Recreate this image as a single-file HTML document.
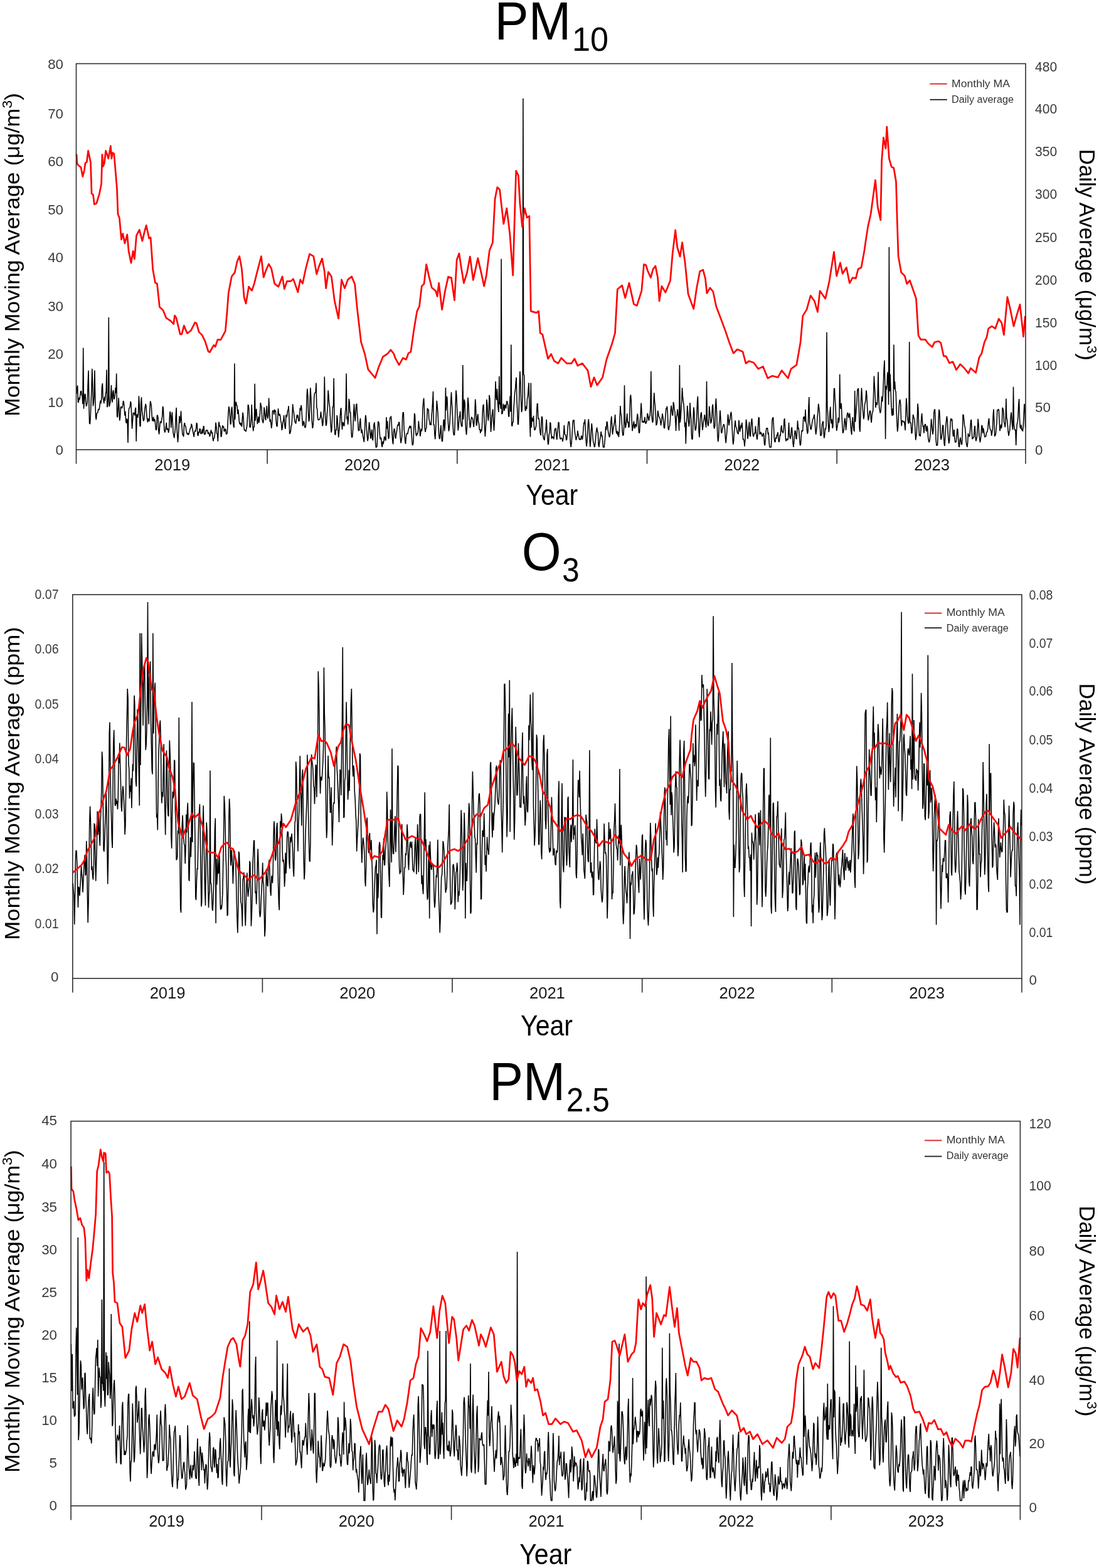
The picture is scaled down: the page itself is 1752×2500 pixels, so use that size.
<!DOCTYPE html>
<html><head><meta charset="utf-8"><title>PM10, O3, PM2.5 time series</title>
<style>html,body{margin:0;padding:0;background:#fff;}svg{display:block;}</style></head><body>
<svg xmlns="http://www.w3.org/2000/svg" width="1752" height="2500" viewBox="0 0 1752 2500" font-family='"Liberation Sans", Arial, sans-serif'>
<rect width="1752" height="2500" fill="#fff"/>
<polyline points="121.9,628.3 122.7,617.9 123.6,614.6 124.4,641.0 125.2,641.4 126.1,633.8 126.9,637.4 127.7,630.8 128.5,624.6 129.4,623.2 130.2,629.8 131.0,630.4 131.9,644.1 132.7,554.6 133.5,651.7 134.3,640.7 135.2,628.7 136.0,628.8 136.8,641.9 137.7,647.9 138.5,645.2 139.3,640.5 140.1,614.5 141.0,590.8 141.8,638.4 142.6,675.1 143.5,675.6 144.3,663.3 145.1,641.3 146.0,620.0 146.8,587.9 147.6,611.5 148.4,647.4 149.3,641.8 150.1,631.6 150.9,590.6 151.8,638.1 152.6,665.0 153.4,669.0 154.2,659.5 155.1,658.2 155.9,657.7 156.7,652.1 157.6,654.0 158.4,651.5 159.2,645.3 160.0,638.7 160.9,643.3 161.7,636.7 162.5,616.7 163.4,611.2 164.2,635.1 165.0,637.8 165.8,643.1 166.7,632.6 167.5,638.9 168.3,628.4 169.2,623.9 170.0,589.4 170.8,649.3 171.6,646.0 172.5,635.5 173.3,506.1 174.1,648.3 175.0,644.9 175.8,641.1 176.6,632.1 177.4,614.1 178.3,636.8 179.1,641.5 179.9,625.4 180.8,622.0 181.6,636.7 182.4,635.2 183.3,630.5 184.1,618.1 184.9,626.7 185.7,595.6 186.6,663.3 187.4,665.4 188.2,651.7 189.1,634.3 189.9,652.9 190.7,670.7 191.5,665.6 192.4,649.6 193.2,648.2 194.0,651.1 194.9,649.6 195.7,646.2 196.5,639.1 197.3,640.9 198.2,651.8 199.0,662.8 199.8,655.8 200.7,671.8 201.5,674.9 202.3,667.4 203.1,669.7 204.0,706.0 204.8,663.2 205.6,651.5 206.5,650.2 207.3,647.9 208.1,640.0 208.9,643.0 209.8,664.1 210.6,683.6 211.4,671.1 212.3,658.5 213.1,658.5 213.9,658.9 214.7,662.6 215.6,652.9 216.4,649.7 217.2,703.7 218.1,662.0 218.9,660.7 219.7,666.0 220.5,658.5 221.4,631.3 222.2,645.2 223.0,678.6 223.9,680.1 224.7,643.7 225.5,633.4 226.4,655.0 227.2,660.6 228.0,668.2 228.8,671.3 229.7,668.5 230.5,655.8 231.3,649.0 232.2,643.9 233.0,648.1 233.8,661.5 234.6,667.8 235.5,673.3 236.3,667.9 237.1,668.3 238.0,671.8 238.8,652.9 239.6,639.6 240.4,642.1 241.3,647.1 242.1,662.3 242.9,671.1 243.8,670.4 244.6,664.6 245.4,672.1 246.2,668.0 247.1,670.7 247.9,679.1 248.7,685.8 249.6,684.7 250.4,662.4 251.2,662.3 252.0,665.8 252.9,687.3 253.7,692.5 254.5,681.5 255.4,671.8 256.2,673.4 257.0,673.9 257.8,668.9 258.7,663.6 259.5,647.7 260.3,651.3 261.2,673.0 262.0,686.1 262.8,689.7 263.6,685.9 264.5,680.6 265.3,673.7 266.1,685.5 267.0,683.4 267.8,684.1 268.6,690.0 269.5,684.7 270.3,666.1 271.1,656.0 271.9,660.8 272.8,682.1 273.6,667.7 274.4,657.0 275.3,673.6 276.1,690.3 276.9,693.7 277.7,698.3 278.6,690.6 279.4,683.8 280.2,664.5 281.1,649.9 281.9,682.0 282.7,694.2 283.5,705.2 284.4,693.3 285.2,678.3 286.0,663.4 286.9,674.6 287.7,669.4 288.5,655.3 289.3,671.1 290.2,683.8 291.0,692.8 291.8,693.5 292.7,696.2 293.5,677.9 294.3,674.2 295.1,679.0 296.0,679.3 296.8,686.2 297.6,689.7 298.5,692.4 299.3,690.4 300.1,692.9 300.9,692.6 301.8,689.1 302.6,686.3 303.4,682.4 304.3,682.4 305.1,675.8 305.9,678.3 306.8,683.1 307.6,688.7 308.4,692.1 309.2,696.7 310.1,688.7 310.9,687.1 311.7,688.0 312.6,682.9 313.4,674.0 314.2,676.2 315.0,693.6 315.9,694.9 316.7,688.3 317.5,690.4 318.4,683.6 319.2,684.0 320.0,691.1 320.8,691.4 321.7,689.2 322.5,684.3 323.3,691.4 324.2,680.1 325.0,679.4 325.8,692.5 326.6,692.4 327.5,691.5 328.3,686.7 329.1,685.7 330.0,686.8 330.8,686.2 331.6,692.0 332.4,689.7 333.3,690.7 334.1,695.4 334.9,694.8 335.8,688.8 336.6,685.5 337.4,691.1 338.2,688.9 339.1,697.2 339.9,703.3 340.7,698.9 341.6,698.5 342.4,692.7 343.2,686.5 344.0,673.6 344.9,680.5 345.7,691.1 346.5,691.8 347.4,703.8 348.2,683.2 349.0,672.5 349.9,679.3 350.7,679.2 351.5,682.9 352.3,696.7 353.2,695.2 354.0,683.7 354.8,678.3 355.7,680.8 356.5,679.9 357.3,687.9 358.1,687.2 359.0,683.8 359.8,684.8 360.6,692.0 361.5,691.8 362.3,690.2 363.1,675.1 363.9,659.2 364.8,648.1 365.6,652.2 366.4,661.4 367.3,676.6 368.1,675.6 368.9,653.3 369.7,648.6 370.6,662.4 371.4,672.6 372.2,678.7 373.1,681.8 373.9,579.4 374.7,669.0 375.5,645.8 376.4,640.7 377.2,646.0 378.0,647.3 378.9,660.2 379.7,652.8 380.5,660.9 381.3,671.6 382.2,676.4 383.0,674.0 383.8,678.3 384.7,674.5 385.5,680.4 386.3,667.6 387.1,657.5 388.0,665.4 388.8,679.9 389.6,686.5 390.5,685.7 391.3,686.9 392.1,688.1 393.0,682.8 393.8,678.7 394.6,663.7 395.4,645.2 396.3,646.9 397.1,655.6 397.9,679.3 398.8,681.9 399.6,678.6 400.4,668.6 401.2,645.0 402.1,668.4 402.9,677.9 403.7,687.3 404.6,680.5 405.4,680.4 406.2,611.8 407.0,671.0 407.9,656.6 408.7,651.9 409.5,665.8 410.4,676.1 411.2,670.5 412.0,664.2 412.8,674.0 413.7,668.5 414.5,657.4 415.3,642.0 416.2,647.0 417.0,649.2 417.8,668.8 418.6,671.6 419.5,674.6 420.3,667.9 421.1,649.4 422.0,655.5 422.8,665.7 423.6,670.2 424.4,659.5 425.3,647.0 426.1,662.8 426.9,667.3 427.8,661.6 428.6,634.5 429.4,653.1 430.3,672.7 431.1,668.4 431.9,674.6 432.7,682.9 433.6,676.1 434.4,656.2 435.2,654.7 436.1,654.9 436.9,661.1 437.7,652.7 438.5,656.2 439.4,654.7 440.2,671.2 441.0,678.9 441.9,680.2 442.7,666.7 443.5,651.4 444.3,659.9 445.2,662.9 446.0,660.0 446.8,664.4 447.7,671.4 448.5,674.7 449.3,686.0 450.1,682.6 451.0,672.6 451.8,671.4 452.6,662.1 453.5,674.0 454.3,681.3 455.1,683.8 455.9,661.4 456.8,665.1 457.6,663.6 458.4,655.5 459.3,653.5 460.1,647.4 460.9,665.9 461.7,692.0 462.6,690.3 463.4,687.3 464.2,678.8 465.1,677.2 465.9,662.2 466.7,644.4 467.5,653.8 468.4,657.8 469.2,664.8 470.0,672.1 470.9,674.3 471.7,675.3 472.5,668.6 473.4,661.4 474.2,666.2 475.0,661.5 475.8,669.7 476.7,671.9 477.5,668.4 478.3,650.3 479.2,654.7 480.0,646.0 480.8,650.7 481.6,665.4 482.5,679.1 483.3,677.0 484.1,671.3 485.0,674.2 485.8,680.9 486.6,682.0 487.4,679.7 488.3,661.7 489.1,631.9 489.9,619.9 490.8,630.5 491.6,658.7 492.4,672.3 493.2,667.7 494.1,636.9 494.9,618.3 495.7,632.4 496.6,655.5 497.4,673.0 498.2,682.9 499.0,679.9 499.9,667.9 500.7,634.6 501.5,627.2 502.4,626.2 503.2,625.3 504.0,610.5 504.8,649.6 505.7,652.4 506.5,666.1 507.3,669.6 508.2,669.5 509.0,669.0 509.8,668.2 510.7,664.7 511.5,656.2 512.3,664.6 513.1,667.5 514.0,679.3 514.8,677.0 515.6,664.8 516.5,652.0 517.3,600.6 518.1,650.3 518.9,668.4 519.8,678.9 520.6,675.7 521.4,660.3 522.3,648.7 523.1,622.3 523.9,630.4 524.7,643.0 525.6,648.7 526.4,663.2 527.2,678.1 528.1,689.7 528.9,685.2 529.7,665.4 530.5,648.4 531.4,648.4 532.2,603.0 533.0,673.7 533.9,692.4 534.7,693.4 535.5,685.4 536.3,685.5 537.2,662.1 538.0,667.5 538.8,684.5 539.7,697.5 540.5,687.6 541.3,681.6 542.1,667.5 543.0,653.2 543.8,650.5 544.6,671.7 545.5,684.9 546.3,673.3 547.1,673.9 547.9,678.5 548.8,678.7 549.6,668.2 550.4,657.7 551.3,649.8 552.1,595.6 552.9,668.6 553.8,663.9 554.6,677.0 555.4,668.8 556.2,635.8 557.1,640.9 557.9,657.4 558.7,657.5 559.6,675.7 560.4,695.2 561.2,697.8 562.0,694.6 562.9,680.8 563.7,658.6 564.5,644.1 565.4,662.1 566.2,671.6 567.0,658.3 567.8,645.9 568.7,643.5 569.5,658.8 570.3,667.8 571.2,685.5 572.0,686.7 572.8,685.7 573.6,673.7 574.5,666.9 575.3,682.2 576.1,690.3 577.0,684.8 577.8,690.4 578.6,695.3 579.4,699.2 580.3,704.8 581.1,695.2 581.9,674.2 582.8,661.8 583.6,667.4 584.4,683.7 585.2,695.0 586.1,703.1 586.9,698.8 587.7,685.2 588.6,673.1 589.4,680.9 590.2,692.1 591.0,699.5 591.9,690.6 592.7,684.9 593.5,699.5 594.4,702.3 595.2,688.9 596.0,677.4 596.9,673.3 597.7,682.4 598.5,705.1 599.3,712.9 600.2,712.9 601.0,711.9 601.8,694.3 602.7,672.5 603.5,672.7 604.3,675.7 605.1,688.7 606.0,700.4 606.8,698.1 607.6,698.5 608.5,710.0 609.3,712.9 610.1,703.6 610.9,708.0 611.8,703.9 612.6,696.5 613.4,696.7 614.3,701.8 615.1,701.6 615.9,665.0 616.7,683.4 617.6,671.4 618.4,686.8 619.2,699.6 620.1,697.7 620.9,677.9 621.7,665.5 622.5,667.1 623.4,663.4 624.2,674.5 625.0,690.6 625.9,704.5 626.7,708.3 627.5,688.9 628.3,683.9 629.2,684.3 630.0,696.6 630.8,699.3 631.7,692.2 632.5,687.6 633.3,681.0 634.2,676.9 635.0,678.8 635.8,673.3 636.6,673.4 637.5,685.5 638.3,698.7 639.1,706.5 640.0,701.4 640.8,695.1 641.6,665.9 642.4,657.6 643.3,657.8 644.1,684.7 644.9,690.9 645.8,703.9 646.6,707.8 647.4,696.9 648.2,692.0 649.1,691.0 649.9,692.1 650.7,687.0 651.6,683.8 652.4,681.4 653.2,679.1 654.0,682.7 654.9,678.8 655.7,687.0 656.5,698.9 657.4,709.8 658.2,709.1 659.0,705.0 659.8,681.5 660.7,658.9 661.5,662.1 662.3,682.7 663.2,693.3 664.0,695.2 664.8,691.5 665.6,691.8 666.5,687.8 667.3,671.3 668.1,680.5 669.0,684.0 669.8,695.7 670.6,690.7 671.4,683.5 672.3,687.5 673.1,681.4 673.9,653.4 674.8,640.3 675.6,634.9 676.4,649.5 677.3,683.8 678.1,689.0 678.9,683.8 679.7,682.2 680.6,667.7 681.4,650.7 682.2,653.8 683.1,652.8 683.9,669.1 684.7,670.9 685.5,677.9 686.4,674.2 687.2,677.9 688.0,663.4 688.9,653.5 689.7,641.0 690.5,624.0 691.3,677.2 692.2,677.5 693.0,694.0 693.8,700.3 694.7,682.9 695.5,659.5 696.3,638.7 697.1,647.0 698.0,657.8 698.8,676.6 699.6,691.8 700.5,699.8 701.3,698.7 702.1,686.8 702.9,678.0 703.8,695.3 704.6,703.9 705.4,703.3 706.3,684.8 707.1,669.9 707.9,669.1 708.7,687.4 709.6,676.1 710.4,618.0 711.2,654.4 712.1,631.9 712.9,634.2 713.7,659.5 714.5,674.8 715.4,687.6 716.2,683.8 717.0,673.6 717.9,657.0 718.7,640.4 719.5,625.3 720.4,643.6 721.2,656.7 722.0,677.4 722.8,690.5 723.7,694.0 724.5,692.9 725.3,673.6 726.2,643.9 727.0,622.3 727.8,630.6 728.6,650.4 729.5,671.8 730.3,686.5 731.1,679.6 732.0,664.4 732.8,663.5 733.6,655.8 734.4,671.7 735.3,677.7 736.1,680.2 736.9,679.0 737.8,582.0 738.6,668.8 739.4,652.1 740.2,636.9 741.1,642.5 741.9,671.8 742.7,685.2 743.6,693.3 744.4,681.8 745.2,653.5 746.0,633.8 746.9,644.5 747.7,665.0 748.5,671.1 749.4,682.1 750.2,679.1 751.0,668.7 751.8,664.7 752.7,667.1 753.5,667.2 754.3,674.5 755.2,680.9 756.0,672.7 756.8,661.4 757.7,636.6 758.5,647.6 759.3,677.5 760.1,678.5 761.0,664.6 761.8,660.1 762.6,672.5 763.5,675.6 764.3,685.5 765.1,684.0 765.9,690.6 766.8,684.5 767.6,687.9 768.4,682.0 769.3,656.8 770.1,647.0 770.9,644.8 771.7,663.8 772.6,681.8 773.4,696.3 774.2,684.1 775.1,669.3 775.9,636.8 776.7,644.9 777.5,663.2 778.4,670.8 779.2,659.5 780.0,629.8 780.9,635.8 781.7,664.3 782.5,688.6 783.3,678.4 784.2,663.6 785.0,657.2 785.8,652.4 786.7,673.5 787.5,686.7 788.3,672.9 789.1,644.9 790.0,608.0 790.8,631.6 791.6,637.8 792.5,619.9 793.3,639.3 794.1,650.1 794.9,657.1 795.8,600.0 796.6,644.5 797.4,641.9 798.3,652.0 799.1,412.8 799.9,660.2 800.8,659.4 801.6,655.8 802.4,643.8 803.2,647.3 804.1,655.0 804.9,646.1 805.7,645.8 806.6,651.4 807.4,643.7 808.2,639.1 809.0,642.2 809.9,646.6 810.7,663.7 811.5,664.4 812.4,646.5 813.2,631.6 814.0,656.5 814.8,549.6 815.7,677.9 816.5,679.6 817.3,673.4 818.2,672.8 819.0,651.6 819.8,638.7 820.6,626.7 821.5,620.7 822.3,609.0 823.1,601.7 824.0,639.7 824.8,654.6 825.6,676.9 826.4,676.3 827.3,653.2 828.1,618.0 828.9,592.1 829.8,609.8 830.6,637.0 831.4,657.1 832.2,653.8 833.1,629.1 833.9,157.0 834.7,597.3 835.6,597.9 836.4,633.4 837.2,654.2 838.1,654.9 838.9,647.7 839.7,652.1 840.5,635.6 841.4,632.8 842.2,620.4 843.0,610.3 843.9,642.7 844.7,677.4 845.5,696.6 846.3,610.5 847.2,681.8 848.0,666.0 848.8,669.5 849.7,671.9 850.5,662.8 851.3,678.4 852.1,685.9 853.0,685.1 853.8,682.2 854.6,679.8 855.5,659.9 856.3,644.0 857.1,643.3 857.9,668.1 858.8,666.4 859.6,670.1 860.4,683.2 861.3,691.1 862.1,694.3 862.9,675.6 863.7,663.7 864.6,666.5 865.4,693.0 866.2,697.2 867.1,700.3 867.9,701.9 868.7,692.1 869.5,689.2 870.4,679.2 871.2,668.7 872.0,688.3 872.9,698.4 873.7,708.9 874.5,706.4 875.3,692.1 876.2,689.9 877.0,673.5 877.8,674.7 878.7,692.2 879.5,699.6 880.3,695.4 881.2,698.1 882.0,696.4 882.8,700.4 883.6,692.2 884.5,683.3 885.3,685.9 886.1,682.4 887.0,694.7 887.8,701.1 888.6,690.2 889.4,683.2 890.3,672.7 891.1,674.6 891.9,690.5 892.8,699.2 893.6,700.0 894.4,698.4 895.2,698.5 896.1,699.3 896.9,704.0 897.7,700.0 898.6,691.3 899.4,677.7 900.2,691.6 901.0,693.3 901.9,694.0 902.7,701.3 903.5,701.0 904.4,692.1 905.2,680.3 906.0,673.7 906.8,671.8 907.7,674.1 908.5,685.4 909.3,705.9 910.2,712.9 911.0,706.7 911.8,697.4 912.6,682.0 913.5,669.7 914.3,673.2 915.1,669.3 916.0,686.4 916.8,692.0 917.6,697.0 918.4,701.8 919.3,697.1 920.1,695.5 920.9,686.7 921.8,693.1 922.6,695.6 923.4,700.4 924.3,700.9 925.1,699.3 925.9,701.1 926.7,694.7 927.6,696.4 928.4,700.9 929.2,695.1 930.1,681.5 930.9,673.3 931.7,675.9 932.5,668.5 933.4,686.5 934.2,702.6 935.0,711.8 935.9,704.0 936.7,692.3 937.5,675.4 938.3,668.4 939.2,680.2 940.0,700.5 940.8,712.7 941.7,702.5 942.5,684.8 943.3,675.1 944.1,683.5 945.0,697.5 945.8,704.8 946.6,706.9 947.5,712.9 948.3,711.7 949.1,704.3 949.9,693.9 950.8,686.2 951.6,681.7 952.4,687.5 953.3,690.7 954.1,709.5 954.9,712.9 955.7,705.9 956.6,699.7 957.4,695.5 958.2,688.0 959.1,694.8 959.9,694.6 960.7,703.0 961.6,712.9 962.4,712.9 963.2,712.9 964.0,705.3 964.9,693.6 965.7,679.8 966.5,685.9 967.4,671.7 968.2,673.8 969.0,684.0 969.8,689.8 970.7,693.5 971.5,697.2 972.3,694.9 973.2,683.4 974.0,671.1 974.8,663.8 975.6,676.2 976.5,692.8 977.3,685.7 978.1,681.5 979.0,676.6 979.8,671.0 980.6,661.0 981.4,676.6 982.3,687.9 983.1,691.5 983.9,686.9 984.8,694.2 985.6,688.6 986.4,696.9 987.2,687.1 988.1,668.4 988.9,647.0 989.7,659.2 990.6,662.3 991.4,675.5 992.2,688.4 993.0,694.7 993.9,693.0 994.7,680.6 995.5,614.2 996.4,672.8 997.2,682.5 998.0,677.3 998.8,669.2 999.7,659.2 1000.5,674.2 1001.3,672.4 1002.2,681.6 1003.0,680.2 1003.8,662.6 1004.7,633.1 1005.5,629.5 1006.3,639.8 1007.1,669.2 1008.0,687.2 1008.8,682.8 1009.6,676.4 1010.5,671.5 1011.3,681.6 1012.1,683.0 1012.9,676.1 1013.8,677.3 1014.6,680.8 1015.4,667.0 1016.3,659.5 1017.1,665.9 1017.9,682.3 1018.7,690.7 1019.6,689.1 1020.4,669.6 1021.2,661.0 1022.1,642.6 1022.9,656.0 1023.7,673.4 1024.5,672.6 1025.4,671.3 1026.2,673.9 1027.0,672.6 1027.9,664.8 1028.7,673.1 1029.5,675.9 1030.3,673.1 1031.2,670.8 1032.0,659.1 1032.8,660.6 1033.7,668.2 1034.5,670.7 1035.3,664.1 1036.1,663.4 1037.0,648.6 1037.8,591.9 1038.6,655.5 1039.5,668.2 1040.3,673.9 1041.1,670.8 1042.0,643.5 1042.8,626.3 1043.6,640.3 1044.4,646.5 1045.3,662.6 1046.1,677.5 1046.9,677.1 1047.8,671.4 1048.6,654.7 1049.4,658.5 1050.2,663.7 1051.1,665.7 1051.9,666.4 1052.7,670.6 1053.6,678.4 1054.4,672.9 1055.2,666.4 1056.0,659.4 1056.9,665.0 1057.7,671.6 1058.5,681.7 1059.4,682.3 1060.2,672.4 1061.0,662.2 1061.8,651.6 1062.7,652.1 1063.5,647.7 1064.3,658.9 1065.2,683.1 1066.0,685.9 1066.8,680.9 1067.6,679.1 1068.5,668.1 1069.3,654.3 1070.1,646.6 1071.0,654.9 1071.8,661.8 1072.6,662.4 1073.4,641.0 1074.3,644.7 1075.1,653.7 1075.9,656.2 1076.8,671.1 1077.6,687.0 1078.4,664.0 1079.2,662.0 1080.1,652.3 1080.9,659.7 1081.7,669.5 1082.6,686.7 1083.4,582.0 1084.2,673.6 1085.1,666.8 1085.9,651.7 1086.7,640.9 1087.5,618.4 1088.4,632.7 1089.2,640.1 1090.0,644.6 1090.9,659.7 1091.7,681.0 1092.5,673.5 1093.3,707.5 1094.2,676.4 1095.0,665.4 1095.8,646.9 1096.7,657.6 1097.5,671.8 1098.3,680.1 1099.1,673.5 1100.0,642.0 1100.8,658.4 1101.6,667.4 1102.5,695.6 1103.3,700.9 1104.1,699.1 1104.9,671.9 1105.8,649.3 1106.6,655.6 1107.4,674.7 1108.3,686.2 1109.1,685.5 1109.9,679.6 1110.7,665.1 1111.6,640.0 1112.4,631.9 1113.2,659.3 1114.1,688.3 1114.9,697.2 1115.7,681.9 1116.5,666.2 1117.4,659.5 1118.2,657.4 1119.0,673.2 1119.9,685.9 1120.7,680.0 1121.5,672.2 1122.3,668.4 1123.2,661.1 1124.0,666.5 1124.8,675.7 1125.7,681.6 1126.5,608.0 1127.3,668.7 1128.2,675.5 1129.0,679.3 1129.8,673.4 1130.6,647.5 1131.5,655.6 1132.3,665.0 1133.1,675.1 1134.0,672.4 1134.8,665.0 1135.6,648.2 1136.4,644.7 1137.3,662.7 1138.1,680.8 1138.9,683.4 1139.8,677.9 1140.6,647.8 1141.4,635.3 1142.2,650.3 1143.1,674.8 1143.9,695.0 1144.7,704.3 1145.6,696.9 1146.4,676.1 1147.2,669.3 1148.0,654.4 1148.9,667.7 1149.7,688.8 1150.5,690.8 1151.4,685.6 1152.2,681.4 1153.0,678.2 1153.8,676.2 1154.7,679.5 1155.5,684.3 1156.3,697.4 1157.2,706.5 1158.0,697.1 1158.8,689.3 1159.6,676.2 1160.5,660.5 1161.3,667.1 1162.1,678.3 1163.0,671.1 1163.8,668.8 1164.6,660.9 1165.5,656.6 1166.3,663.5 1167.1,681.4 1167.9,698.4 1168.8,708.7 1169.6,702.6 1170.4,689.5 1171.3,678.9 1172.1,670.4 1172.9,679.9 1173.7,680.8 1174.6,685.1 1175.4,689.5 1176.2,691.1 1177.1,691.5 1177.9,669.9 1178.7,679.4 1179.5,688.4 1180.4,683.7 1181.2,677.4 1182.0,682.2 1182.9,673.8 1183.7,685.7 1184.5,700.3 1185.3,700.2 1186.2,703.2 1187.0,711.8 1187.8,702.1 1188.7,684.6 1189.5,668.7 1190.3,674.8 1191.1,685.9 1192.0,699.8 1192.8,693.8 1193.6,681.4 1194.5,672.7 1195.3,692.8 1196.1,696.3 1196.9,686.4 1197.8,672.1 1198.6,667.2 1199.4,676.9 1200.3,693.1 1201.1,696.1 1201.9,694.2 1202.7,690.1 1203.6,691.1 1204.4,679.2 1205.2,688.5 1206.1,695.7 1206.9,701.0 1207.7,695.3 1208.6,678.4 1209.4,665.8 1210.2,666.3 1211.0,691.8 1211.9,691.9 1212.7,688.9 1213.5,690.4 1214.4,692.9 1215.2,696.1 1216.0,694.5 1216.8,690.5 1217.7,692.5 1218.5,707.8 1219.3,710.3 1220.2,701.7 1221.0,688.2 1221.8,683.0 1222.6,683.2 1223.5,682.2 1224.3,692.4 1225.1,689.5 1226.0,702.9 1226.8,712.6 1227.6,712.9 1228.4,712.9 1229.3,712.9 1230.1,697.0 1230.9,670.4 1231.8,666.3 1232.6,665.9 1233.4,679.1 1234.2,698.5 1235.1,704.4 1235.9,704.6 1236.7,697.0 1237.6,699.5 1238.4,693.6 1239.2,694.0 1240.0,689.1 1240.9,699.6 1241.7,704.8 1242.5,703.1 1243.4,692.7 1244.2,694.8 1245.0,683.2 1245.8,678.2 1246.7,687.8 1247.5,687.9 1248.3,690.7 1249.2,685.8 1250.0,669.7 1250.8,667.2 1251.7,684.1 1252.5,701.0 1253.3,703.4 1254.1,699.9 1255.0,700.2 1255.8,701.9 1256.6,696.8 1257.5,673.8 1258.3,690.9 1259.1,697.1 1259.9,699.9 1260.8,694.9 1261.6,683.4 1262.4,681.2 1263.3,694.2 1264.1,706.5 1264.9,712.9 1265.7,705.5 1266.6,693.3 1267.4,686.4 1268.2,687.9 1269.1,699.1 1269.9,700.1 1270.7,688.0 1271.5,670.5 1272.4,682.9 1273.2,682.7 1274.0,691.1 1274.9,704.2 1275.7,710.4 1276.5,708.0 1277.3,694.2 1278.2,686.0 1279.0,687.9 1279.8,686.6 1280.7,666.0 1281.5,664.4 1282.3,666.0 1283.1,672.5 1284.0,653.0 1284.8,672.5 1285.6,676.1 1286.5,686.7 1287.3,691.7 1288.1,687.6 1289.0,648.4 1289.8,633.0 1290.6,674.0 1291.4,678.2 1292.3,684.1 1293.1,684.5 1293.9,679.6 1294.8,672.6 1295.6,669.3 1296.4,667.1 1297.2,665.7 1298.1,660.7 1298.9,669.6 1299.7,682.3 1300.6,692.8 1301.4,687.1 1302.2,679.1 1303.0,665.8 1303.9,657.1 1304.7,643.7 1305.5,649.1 1306.4,657.1 1307.2,679.2 1308.0,694.2 1308.8,694.5 1309.7,692.1 1310.5,676.3 1311.3,674.3 1312.2,671.6 1313.0,688.5 1313.8,698.5 1314.6,694.5 1315.5,683.6 1316.3,684.1 1317.1,678.1 1318.0,529.7 1318.8,647.6 1319.6,658.6 1320.4,675.5 1321.3,689.0 1322.1,683.0 1322.9,657.8 1323.8,648.6 1324.6,669.8 1325.4,675.5 1326.2,668.4 1327.1,682.6 1327.9,680.6 1328.7,648.5 1329.6,619.7 1330.4,619.1 1331.2,636.6 1332.1,649.1 1332.9,672.7 1333.7,687.0 1334.5,682.0 1335.4,676.4 1336.2,665.9 1337.0,674.0 1337.9,668.9 1338.7,596.8 1339.5,647.8 1340.3,652.0 1341.2,642.8 1342.0,661.4 1342.8,679.2 1343.7,690.7 1344.5,688.6 1345.3,683.9 1346.1,671.9 1347.0,666.7 1347.8,674.0 1348.6,686.0 1349.5,674.0 1350.3,662.5 1351.1,657.8 1351.9,659.7 1352.8,666.2 1353.6,663.2 1354.4,658.7 1355.3,667.3 1356.1,678.2 1356.9,687.7 1357.7,693.1 1358.6,673.9 1359.4,665.0 1360.2,677.5 1361.1,685.9 1361.9,688.0 1362.7,623.0 1363.5,672.6 1364.4,661.5 1365.2,652.1 1366.0,639.9 1366.9,621.6 1367.7,620.2 1368.5,619.8 1369.4,652.7 1370.2,683.4 1371.0,688.5 1371.8,664.1 1372.7,634.9 1373.5,618.5 1374.3,633.1 1375.2,650.9 1376.0,659.5 1376.8,668.3 1377.6,663.4 1378.5,645.0 1379.3,642.0 1380.1,635.8 1381.0,622.4 1381.8,630.4 1382.6,648.2 1383.4,662.2 1384.3,670.5 1385.1,665.5 1385.9,659.4 1386.8,654.5 1387.6,656.5 1388.4,668.0 1389.2,673.9 1390.1,661.6 1390.9,657.4 1391.7,655.0 1392.6,627.3 1393.4,599.6 1394.2,614.3 1395.0,628.6 1395.9,649.9 1396.7,641.6 1397.5,644.0 1398.4,645.5 1399.2,628.9 1400.0,593.0 1400.8,633.7 1401.7,649.5 1402.5,654.7 1403.3,658.7 1404.2,655.3 1405.0,642.7 1405.8,632.1 1406.6,640.3 1407.5,631.5 1408.3,611.4 1409.1,589.0 1410.0,574.5 1410.8,615.5 1411.6,700.0 1412.5,615.3 1413.3,621.5 1414.1,612.3 1414.9,593.3 1415.8,609.2 1416.6,645.2 1417.4,394.0 1418.3,624.1 1419.1,596.5 1419.9,618.3 1420.7,642.0 1421.6,659.7 1422.4,663.0 1423.2,651.1 1424.1,662.1 1424.9,549.6 1425.7,620.4 1426.5,608.4 1427.4,622.8 1428.2,624.7 1429.0,651.6 1429.9,674.2 1430.7,688.2 1431.5,682.3 1432.3,665.4 1433.2,648.6 1434.0,639.2 1434.8,637.0 1435.7,644.5 1436.5,668.5 1437.3,679.3 1438.1,670.5 1439.0,671.3 1439.8,671.7 1440.6,673.0 1441.5,672.4 1442.3,677.7 1443.1,686.2 1443.9,661.6 1444.8,634.7 1445.6,644.2 1446.4,663.2 1447.3,670.4 1448.1,675.5 1448.9,671.2 1449.7,545.1 1450.6,673.9 1451.4,673.7 1452.2,675.1 1453.1,690.9 1453.9,690.3 1454.7,678.5 1455.6,660.8 1456.4,664.3 1457.2,666.9 1458.0,669.3 1458.9,685.2 1459.7,701.6 1460.5,696.4 1461.4,689.4 1462.2,670.8 1463.0,643.4 1463.8,651.2 1464.7,678.9 1465.5,693.8 1466.3,693.3 1467.2,695.8 1468.0,684.6 1468.8,666.2 1469.6,659.1 1470.5,673.2 1471.3,680.0 1472.1,679.5 1473.0,690.7 1473.8,679.2 1474.6,676.8 1475.4,676.7 1476.3,686.2 1477.1,687.9 1477.9,678.8 1478.8,684.0 1479.6,697.6 1480.4,702.5 1481.2,705.2 1482.1,702.2 1482.9,693.7 1483.7,684.8 1484.6,667.8 1485.4,676.4 1486.2,684.4 1487.0,692.6 1487.9,685.9 1488.7,658.7 1489.5,653.6 1490.4,652.6 1491.2,673.9 1492.0,700.3 1492.9,710.0 1493.7,709.9 1494.5,709.6 1495.3,694.4 1496.2,668.1 1497.0,652.8 1497.8,656.4 1498.7,677.7 1499.5,696.5 1500.3,701.2 1501.1,696.6 1502.0,688.2 1502.8,677.8 1503.6,678.6 1504.5,697.5 1505.3,708.7 1506.1,710.9 1506.9,692.7 1507.8,678.9 1508.6,670.3 1509.4,663.6 1510.3,670.8 1511.1,688.9 1511.9,699.7 1512.7,707.2 1513.6,702.7 1514.4,686.7 1515.2,671.9 1516.1,667.0 1516.9,671.0 1517.7,668.0 1518.5,683.5 1519.4,694.9 1520.2,695.2 1521.0,684.9 1521.9,698.7 1522.7,705.5 1523.5,704.8 1524.3,704.4 1525.2,694.5 1526.0,683.3 1526.8,684.9 1527.7,700.0 1528.5,711.0 1529.3,712.9 1530.1,702.8 1531.0,697.5 1531.8,703.0 1532.6,709.0 1533.5,707.8 1534.3,689.8 1535.1,661.4 1536.0,661.6 1536.8,670.5 1537.6,678.4 1538.4,681.1 1539.3,690.4 1540.1,703.6 1540.9,708.7 1541.8,712.9 1542.6,706.9 1543.4,691.1 1544.2,694.3 1545.1,696.2 1545.9,694.9 1546.7,683.8 1547.6,671.2 1548.4,669.1 1549.2,686.0 1550.0,700.2 1550.9,698.1 1551.7,698.1 1552.5,696.7 1553.4,682.8 1554.2,678.9 1555.0,695.4 1555.8,703.2 1556.7,700.1 1557.5,696.0 1558.3,682.3 1559.2,667.9 1560.0,676.5 1560.8,692.7 1561.6,699.2 1562.5,705.5 1563.3,699.7 1564.1,692.3 1565.0,678.0 1565.8,679.2 1566.6,691.0 1567.4,682.4 1568.3,686.6 1569.1,691.9 1569.9,696.6 1570.8,696.1 1571.6,695.9 1572.4,690.9 1573.2,689.0 1574.1,687.8 1574.9,682.5 1575.7,671.8 1576.6,666.8 1577.4,678.7 1578.2,683.6 1579.1,685.9 1579.9,686.2 1580.7,694.9 1581.5,689.8 1582.4,683.8 1583.2,661.9 1584.0,652.6 1584.9,672.5 1585.7,695.7 1586.5,694.1 1587.3,692.5 1588.2,681.9 1589.0,675.0 1589.8,654.0 1590.7,653.9 1591.5,652.8 1592.3,653.2 1593.1,672.0 1594.0,687.2 1594.8,682.1 1595.6,676.9 1596.5,682.8 1597.3,675.4 1598.1,649.9 1598.9,651.7 1599.8,656.0 1600.6,673.6 1601.4,675.1 1602.3,681.2 1603.1,671.3 1603.9,635.4 1604.7,665.8 1605.6,669.6 1606.4,678.4 1607.2,688.6 1608.1,694.8 1608.9,689.2 1609.7,686.1 1610.5,676.1 1611.4,662.4 1612.2,657.3 1613.0,669.6 1613.9,680.9 1614.7,685.3 1615.5,616.7 1616.4,677.9 1617.2,683.0 1618.0,685.4 1618.8,684.8 1619.7,710.0 1620.5,687.3 1621.3,675.7 1622.2,672.9 1623.0,663.9 1623.8,644.2 1624.6,636.1 1625.5,668.0 1626.3,681.6 1627.1,683.1 1628.0,677.3 1628.8,686.0 1629.6,683.4 1630.4,687.9 1631.3,678.6 1632.1,662.4 1632.9,644.1 1633.8,646.4 1634.6,682.3" fill="none" stroke="#000" stroke-width="1.55" stroke-linejoin="miter" stroke-miterlimit="2"/>
<polyline points="122.0,245.8 122.8,260.6 125.1,263.7 129.0,266.8 131.8,281.6 134.4,271.5 136.0,259.8 138.3,258.3 140.6,240.4 144.5,259.0 146.1,308.8 148.4,310.3 150.4,325.9 153.8,324.3 158.5,308.8 161.6,293.2 162.9,246.6 164.4,265.3 166.3,260.6 168.6,240.4 170.9,246.6 172.8,252.8 176.4,232.6 177.9,252.8 179.5,243.5 181.8,245.1 186.5,301.0 188.0,341.4 190.4,347.6 193.5,381.8 195.8,372.5 198.9,388.0 202.8,374.0 205.1,400.4 209.0,419.1 212.1,400.4 214.4,412.9 217.5,375.6 222.2,366.3 226.9,384.1 230.8,367.8 233.1,359.3 237.7,380.2 240.1,378.7 243.7,429.7 247.5,450.9 250.4,452.1 254.4,489.4 259.9,494.4 264.9,506.8 272.3,511.8 276.8,516.7 278.5,503.1 281.0,506.8 287.2,532.9 289.7,532.9 293.4,519.2 298.4,531.6 304.6,526.7 310.9,514.2 313.3,515.5 317.1,529.2 322.0,534.1 327.0,544.1 332.0,560.2 334.5,561.5 340.7,550.3 343.2,552.8 346.9,541.6 351.9,541.6 359.3,527.9 361.8,499.3 364.3,467.0 369.3,440.9 374.2,434.7 378.0,417.3 381.7,408.6 385.4,428.5 389.2,474.5 392.1,483.9 396.6,457.1 401.6,463.3 405.3,452.1 410.3,432.2 416.5,408.6 420.2,442.2 424.0,431.0 428.4,421.0 432.7,428.5 437.6,452.1 443.9,457.1 450.1,440.9 453.3,460.8 457.5,448.4 463.7,448.4 467.5,444.6 474.9,465.8 478.7,445.9 482.4,452.1 487.4,428.5 493.6,404.9 499.8,408.6 504.8,437.2 508.5,424.7 513.5,412.3 517.2,432.2 519.7,459.6 523.4,433.5 528.4,440.9 533.3,479.4 539.6,508.0 544.5,445.9 549.5,459.6 554.5,445.9 560.7,440.9 565.7,453.3 569.4,491.9 575.6,545.3 581.8,565.2 586.8,588.8 598.0,602.5 604.2,583.9 610.4,568.9 617.9,564.0 622.8,557.8 627.8,564.0 630.0,570.7 636.2,581.9 642.4,570.7 647.4,573.2 651.1,563.2 654.9,560.8 659.8,526.0 664.8,496.1 668.5,488.7 672.3,456.3 676.0,452.6 679.7,421.5 683.4,438.9 688.4,458.8 694.6,463.8 697.1,472.5 699.6,451.4 704.6,493.6 709.6,463.8 714.5,441.4 719.5,442.7 724.5,478.7 728.2,414.1 731.9,404.1 735.7,429.0 739.4,451.4 744.4,435.2 749.3,409.1 754.3,446.4 761.8,411.6 768.0,438.9 771.7,456.3 775.4,438.9 780.4,399.2 785.4,386.7 789.1,317.1 792.8,298.5 796.6,302.2 802.8,356.9 807.8,332.0 812.7,371.8 817.7,438.9 821.4,312.2 822.7,272.4 826.4,279.8 828.9,324.6 832.6,361.9 836.3,332.0 840.1,347.0 843.8,344.5 846.3,496.1 855.0,498.6 858.7,496.1 861.2,530.9 864.9,533.4 873.6,571.9 878.6,564.5 883.6,575.7 889.8,579.4 894.8,570.7 903.5,579.4 910.9,579.4 915.9,571.9 920.9,583.1 928.3,579.4 937.0,590.6 942.0,616.7 947.0,601.8 951.9,614.2 960.6,601.8 966.9,573.2 975.6,548.3 980.5,530.9 984.3,461.3 991.7,455.1 996.7,475.0 1002.9,451.4 1010.4,484.9 1015.3,487.4 1022.8,463.8 1026.5,421.5 1029.9,422.8 1032.4,431.5 1037.4,442.7 1041.1,429.0 1044.9,424.0 1048.6,442.7 1051.1,480.0 1054.8,456.3 1061.0,466.3 1068.5,447.6 1072.2,404.1 1076.7,366.8 1079.7,394.2 1084.1,409.1 1087.6,386.7 1092.1,419.0 1097.1,468.8 1102.0,482.4 1105.8,492.4 1110.7,458.8 1115.7,432.7 1120.7,430.2 1124.4,443.9 1126.9,467.5 1131.9,458.8 1136.8,465.0 1141.8,488.7 1149.3,508.5 1156.7,528.4 1163.0,547.1 1169.2,563.2 1175.4,557.0 1184.1,560.8 1189.0,579.4 1194.0,575.7 1201.5,578.2 1208.9,588.1 1216.4,584.4 1223.9,603.0 1231.3,599.3 1240.0,601.8 1246.2,590.6 1256.2,603.0 1261.1,588.1 1269.8,581.9 1276.1,545.8 1279.8,503.6 1286.0,493.6 1292.2,471.3 1298.4,480.0 1303.4,497.4 1307.1,463.8 1315.8,476.2 1322.0,448.9 1329.5,401.6 1333.7,440.2 1339.5,419.0 1343.2,436.5 1349.4,426.5 1354.4,451.4 1359.3,442.7 1364.3,443.9 1368.0,429.0 1373.0,426.5 1378.0,399.2 1380.0,384.9 1383.7,361.1 1388.2,341.0 1395.5,287.0 1399.2,330.0 1403.8,351.0 1405.6,256.8 1408.4,219.3 1412.0,236.7 1413.8,202.0 1417.5,253.2 1421.2,266.0 1424.8,267.8 1428.5,289.7 1430.3,353.8 1432.1,408.6 1436.7,434.3 1442.2,439.7 1445.8,452.5 1450.4,447.1 1456.8,465.3 1460.5,476.3 1464.1,534.9 1467.8,541.3 1475.1,541.3 1479.7,547.7 1486.1,553.2 1489.7,545.8 1496.2,544.0 1499.8,546.7 1504.4,567.8 1508.0,567.8 1513.5,578.8 1519.0,576.9 1524.5,589.7 1530.9,580.6 1537.3,587.0 1543.7,595.2 1547.4,587.0 1555.6,594.3 1561.1,569.6 1564.7,564.1 1569.3,545.8 1573.0,537.6 1575.7,523.9 1581.2,520.2 1586.7,523.9 1592.2,508.3 1596.8,514.7 1600.4,533.9 1605.9,473.6 1610.5,492.8 1616.0,520.2 1620.5,503.8 1626.0,485.5 1631.5,536.7 1634.3,503.8" fill="none" stroke="#ff0000" stroke-width="2.7" stroke-linejoin="round"/>
<rect x="121.5" y="101.5" width="1513.5" height="615.5" fill="none" stroke="#2e2e2e" stroke-width="1.6"/>
<line x1="121.5" y1="717.0" x2="121.5" y2="739.5" stroke="#2e2e2e" stroke-width="1.6"/>
<line x1="426.1" y1="717.0" x2="426.1" y2="739.5" stroke="#2e2e2e" stroke-width="1.6"/>
<line x1="728.8" y1="717.0" x2="728.8" y2="739.5" stroke="#2e2e2e" stroke-width="1.6"/>
<line x1="1031.5" y1="717.0" x2="1031.5" y2="739.5" stroke="#2e2e2e" stroke-width="1.6"/>
<line x1="1334.2" y1="717.0" x2="1334.2" y2="739.5" stroke="#2e2e2e" stroke-width="1.6"/>
<line x1="1635.0" y1="717.0" x2="1635.0" y2="739.5" stroke="#2e2e2e" stroke-width="1.6"/>
<text x="274.8" y="750.2" font-size="25.6" text-anchor="middle" fill="#1a1a1a" >2019</text>
<text x="577.4" y="750.2" font-size="25.6" text-anchor="middle" fill="#1a1a1a" >2020</text>
<text x="880.1" y="750.2" font-size="25.6" text-anchor="middle" fill="#1a1a1a" >2021</text>
<text x="1182.9" y="750.2" font-size="25.6" text-anchor="middle" fill="#1a1a1a" >2022</text>
<text x="1485.6" y="750.2" font-size="25.6" text-anchor="middle" fill="#1a1a1a" >2023</text>
<text x="101" y="110.0" font-size="22.3" text-anchor="end" fill="#3a3a3a" >80</text>
<text x="101" y="188.5" font-size="22.3" text-anchor="end" fill="#3a3a3a" >70</text>
<text x="101" y="264.7" font-size="22.3" text-anchor="end" fill="#3a3a3a" >60</text>
<text x="101" y="341.8" font-size="22.3" text-anchor="end" fill="#3a3a3a" >50</text>
<text x="101" y="418.2" font-size="22.3" text-anchor="end" fill="#3a3a3a" >40</text>
<text x="101" y="496.1" font-size="22.3" text-anchor="end" fill="#3a3a3a" >30</text>
<text x="101" y="572.2" font-size="22.3" text-anchor="end" fill="#3a3a3a" >20</text>
<text x="101" y="648.7" font-size="22.3" text-anchor="end" fill="#3a3a3a" >10</text>
<text x="101" y="724.8" font-size="22.3" text-anchor="end" fill="#3a3a3a" >0</text>
<text x="1650" y="113.8" font-size="22.3" text-anchor="start" fill="#3a3a3a" textLength="35.1" lengthAdjust="spacingAndGlyphs">480</text>
<text x="1650" y="181.1" font-size="22.3" text-anchor="start" fill="#3a3a3a" textLength="35.1" lengthAdjust="spacingAndGlyphs">400</text>
<text x="1650" y="249.2" font-size="22.3" text-anchor="start" fill="#3a3a3a" textLength="35.1" lengthAdjust="spacingAndGlyphs">350</text>
<text x="1650" y="317.4" font-size="22.3" text-anchor="start" fill="#3a3a3a" textLength="35.1" lengthAdjust="spacingAndGlyphs">300</text>
<text x="1650" y="385.5" font-size="22.3" text-anchor="start" fill="#3a3a3a" textLength="35.1" lengthAdjust="spacingAndGlyphs">250</text>
<text x="1650" y="453.6" font-size="22.3" text-anchor="start" fill="#3a3a3a" textLength="35.1" lengthAdjust="spacingAndGlyphs">200</text>
<text x="1650" y="521.8" font-size="22.3" text-anchor="start" fill="#3a3a3a" textLength="35.1" lengthAdjust="spacingAndGlyphs">150</text>
<text x="1650" y="589.8" font-size="22.3" text-anchor="start" fill="#3a3a3a" textLength="35.1" lengthAdjust="spacingAndGlyphs">100</text>
<text x="1650" y="657.1" font-size="22.3" text-anchor="start" fill="#3a3a3a" >50</text>
<text x="1650" y="725.2" font-size="22.3" text-anchor="start" fill="#3a3a3a" >0</text>
<text x="879.8" y="805.2" font-size="45.5" text-anchor="middle" fill="#000" textLength="83" lengthAdjust="spacingAndGlyphs">Year</text>
<text transform="translate(30.6,664) rotate(-90)" font-size="34" fill="#000" textLength="516" lengthAdjust="spacingAndGlyphs">Monthly Moving Average (μg/m<tspan font-size="22" dy="-12">3</tspan><tspan dy="12">)</tspan></text>
<text transform="translate(1721,237.8) rotate(90)" font-size="34.5" fill="#000" textLength="337.1" lengthAdjust="spacingAndGlyphs">Daily Average (μg/m<tspan font-size="22" dy="-12">3</tspan><tspan dy="12">)</tspan></text>
<line x1="1482.4" y1="133.7" x2="1509.8" y2="133.7" stroke="#e03030" stroke-width="2"/>
<line x1="1482.4" y1="158.9" x2="1509.8" y2="158.9" stroke="#303030" stroke-width="2"/>
<text x="1517" y="138.9" font-size="17.4" text-anchor="start" fill="#333" textLength="93" lengthAdjust="spacingAndGlyphs">Monthly MA</text>
<text x="1517" y="164.3" font-size="17.4" text-anchor="start" fill="#333" textLength="99" lengthAdjust="spacingAndGlyphs">Daily average</text>
<polyline points="116.2,1408.0 117.0,1417.7 117.9,1428.2 118.7,1474.0 119.5,1433.8 120.4,1370.2 121.2,1356.4 122.0,1356.8 122.8,1376.4 123.7,1415.1 124.5,1447.0 125.3,1413.8 126.2,1416.6 127.0,1428.1 127.8,1413.4 128.6,1401.0 129.5,1381.0 130.3,1392.7 131.1,1400.6 132.0,1422.8 132.8,1406.3 133.6,1386.5 134.4,1370.8 135.3,1363.0 136.1,1395.8 136.9,1394.3 137.8,1340.7 138.6,1369.3 139.4,1430.9 140.2,1471.3 141.1,1436.7 141.9,1379.8 142.7,1313.1 143.6,1285.6 144.4,1308.4 145.2,1348.1 146.0,1387.2 146.9,1381.2 147.7,1397.7 148.5,1402.5 149.4,1381.5 150.2,1312.8 151.0,1315.3 151.8,1367.9 152.7,1404.7 153.5,1378.1 154.3,1352.7 155.2,1293.4 156.0,1331.0 156.8,1322.8 157.6,1293.5 158.5,1333.7 159.3,1348.4 160.1,1311.8 161.0,1290.3 161.8,1260.9 162.6,1198.4 163.4,1210.9 164.3,1278.3 165.1,1354.7 165.9,1357.7 166.8,1338.8 167.6,1314.5 168.4,1295.5 169.2,1264.5 170.1,1295.4 170.9,1355.6 171.7,1409.4 172.6,1368.5 173.4,1282.5 174.2,1169.5 175.0,1151.5 175.9,1226.4 176.7,1277.1 177.5,1302.8 178.4,1339.3 179.2,1351.9 180.0,1258.5 180.8,1185.1 181.7,1163.9 182.5,1209.1 183.3,1283.6 184.2,1284.1 185.0,1273.4 185.8,1281.8 186.6,1276.8 187.5,1290.5 188.3,1272.1 189.1,1207.8 190.0,1217.1 190.8,1184.6 191.6,1219.0 192.4,1245.4 193.3,1285.7 194.1,1293.9 194.9,1269.3 195.8,1253.4 196.6,1259.4 197.4,1275.0 198.2,1293.4 199.1,1330.7 199.9,1317.1 200.7,1258.3 201.6,1180.2 202.4,1142.8 203.2,1098.1 204.1,1114.6 204.9,1217.7 205.7,1224.8 206.5,1273.1 207.4,1252.5 208.2,1262.4 209.0,1240.6 209.9,1288.4 210.7,1252.9 211.5,1218.3 212.3,1229.4 213.2,1160.8 214.0,1108.8 214.8,1123.0 215.7,1201.7 216.5,1245.5 217.3,1253.9 218.1,1202.6 219.0,1131.0 219.8,1143.8 220.6,1194.5 221.5,1237.4 222.3,1284.4 223.1,1009.6 223.9,1220.0 224.8,1119.9 225.6,1009.4 226.4,1045.9 227.3,1089.9 228.1,1156.8 228.9,1090.3 229.7,1068.1 230.6,1058.0 231.4,1127.0 232.2,1195.8 233.1,1188.0 233.9,1164.2 234.7,1109.8 235.5,959.9 236.4,1128.6 237.2,1154.7 238.0,1079.8 238.9,1074.8 239.7,1054.5 240.5,1151.0 241.3,1185.9 242.2,1227.2 243.0,1234.4 243.8,1009.6 244.7,1169.5 245.5,1135.6 246.3,1100.4 247.1,1088.5 248.0,1131.4 248.8,1236.7 249.6,1303.8 250.5,1297.4 251.3,1323.6 252.1,1254.1 252.9,1199.5 253.8,1182.6 254.6,1155.3 255.4,1148.5 256.3,1176.6 257.1,1256.8 257.9,1280.8 258.7,1262.8 259.6,1270.5 260.4,1224.2 261.2,1186.2 262.1,1263.4 262.9,1294.4 263.7,1331.2 264.5,1274.7 265.4,1196.4 266.2,1215.2 267.0,1277.3 267.9,1299.5 268.7,1301.6 269.5,1232.9 270.3,1180.4 271.2,1203.4 272.0,1231.7 272.8,1332.9 273.7,1352.8 274.5,1300.2 275.3,1262.0 276.1,1272.5 277.0,1267.2 277.8,1211.7 278.6,1213.3 279.5,1295.2 280.3,1307.7 281.1,1371.2 281.9,1370.0 282.8,1365.4 283.6,1323.9 284.4,1329.6 285.3,1143.9 286.1,1302.2 286.9,1370.8 287.7,1448.6 288.6,1455.2 289.4,1379.9 290.2,1317.6 291.1,1299.8 291.9,1323.5 292.7,1336.9 293.5,1345.7 294.4,1348.7 295.2,1377.1 296.0,1352.2 296.9,1298.6 297.7,1327.5 298.5,1293.6 299.3,1280.1 300.2,1318.3 301.0,1401.9 301.8,1404.8 302.7,1359.2 303.5,1335.1 304.3,1366.6 305.1,1339.2 306.0,1119.0 306.8,1342.8 307.6,1261.9 308.5,1215.7 309.3,1217.4 310.1,1276.5 310.9,1339.3 311.8,1430.9 312.6,1435.0 313.4,1405.7 314.3,1384.4 315.1,1386.3 315.9,1345.8 316.7,1309.0 317.6,1294.6 318.4,1282.0 319.2,1326.0 320.1,1388.7 320.9,1445.4 321.7,1437.8 322.5,1367.0 323.4,1315.5 324.2,1284.3 325.0,1333.5 325.9,1385.0 326.7,1421.0 327.5,1443.9 328.3,1377.6 329.2,1311.2 330.0,1324.1 330.8,1379.4 331.7,1410.6 332.5,1447.2 333.3,1427.6 334.1,1421.8 335.0,1228.4 335.8,1409.2 336.6,1408.3 337.5,1424.7 338.3,1448.8 339.1,1452.0 339.9,1434.7 340.8,1405.2 341.6,1374.2 342.4,1323.2 343.3,1304.6 344.1,1472.0 344.9,1369.3 345.7,1410.4 346.6,1392.7 347.4,1367.0 348.2,1393.2 349.1,1388.3 349.9,1364.1 350.7,1420.3 351.5,1450.6 352.4,1443.5 353.2,1449.5 354.0,1440.4 354.9,1423.4 355.7,1376.6 356.5,1336.0 357.3,1268.9 358.2,1283.9 359.0,1311.9 359.8,1357.1 360.7,1383.5 361.5,1419.1 362.3,1460.3 363.1,1458.4 364.0,1396.7 364.8,1305.6 365.6,1273.4 366.5,1289.4 367.3,1366.1 368.1,1380.2 369.0,1354.7 369.8,1364.2 370.6,1378.5 371.4,1408.9 372.3,1382.0 373.1,1355.4 373.9,1357.6 374.8,1365.4 375.6,1373.4 376.4,1398.4 377.2,1437.8 378.1,1469.0 378.9,1487.4 379.7,1451.0 380.6,1357.6 381.4,1360.9 382.2,1385.0 383.0,1403.8 383.9,1437.9 384.7,1441.1 385.5,1450.3 386.4,1477.0 387.2,1402.1 388.0,1399.1 388.8,1390.8 389.7,1407.7 390.5,1456.5 391.3,1476.0 392.2,1444.1 393.0,1413.2 393.8,1391.5 394.6,1415.8 395.5,1429.6 396.3,1420.0 397.1,1413.0 398.0,1372.7 398.8,1376.4 399.6,1422.1 400.4,1476.8 401.3,1458.5 402.1,1427.8 402.9,1380.6 403.8,1359.6 404.6,1340.5 405.4,1339.8 406.2,1387.1 407.1,1424.3 407.9,1421.1 408.7,1441.6 409.6,1414.9 410.4,1374.7 411.2,1353.4 412.0,1379.5 412.9,1409.8 413.7,1453.9 414.5,1462.3 415.4,1457.2 416.2,1433.2 417.0,1420.4 417.8,1404.5 418.7,1375.5 419.5,1406.3 420.3,1409.6 421.2,1452.8 422.0,1493.2 422.8,1482.0 423.6,1441.2 424.5,1385.5 425.3,1397.7 426.1,1411.3 427.0,1413.3 427.8,1382.2 428.6,1374.7 429.4,1370.6 430.3,1403.5 431.1,1422.0 431.9,1428.2 432.8,1398.1 433.6,1396.1 434.4,1408.2 435.2,1391.0 436.1,1331.5 436.9,1309.4 437.7,1322.9 438.6,1367.8 439.4,1372.3 440.2,1362.9 441.0,1319.4 441.9,1311.9 442.7,1362.1 443.5,1408.5 444.4,1439.5 445.2,1451.3 446.0,1385.6 446.8,1309.3 447.7,1319.4 448.5,1297.0 449.3,1305.5 450.2,1359.0 451.0,1374.1 451.8,1370.3 452.6,1376.9 453.5,1413.7 454.3,1401.3 455.1,1359.6 456.0,1392.6 456.8,1375.4 457.6,1333.9 458.4,1325.7 459.3,1327.2 460.1,1344.3 460.9,1374.0 461.8,1385.0 462.6,1334.2 463.4,1343.4 464.2,1339.3 465.1,1329.0 465.9,1343.6 466.7,1357.2 467.6,1387.8 468.4,1397.7 469.2,1365.4 470.0,1313.0 470.9,1307.2 471.7,1214.3 472.5,1225.0 473.4,1271.2 474.2,1324.3 475.0,1357.4 475.8,1314.7 476.7,1295.9 477.5,1244.6 478.3,1204.9 479.2,1261.3 480.0,1280.0 480.8,1316.4 481.6,1239.0 482.5,1226.7 483.3,1279.4 484.1,1367.6 485.0,1402.2 485.8,1392.4 486.6,1347.6 487.4,1318.4 488.3,1296.7 489.1,1274.1 489.9,1203.2 490.8,1248.8 491.6,1298.2 492.4,1338.6 493.2,1371.2 494.1,1373.9 494.9,1344.7 495.7,1257.3 496.6,1202.7 497.4,1214.5 498.2,1218.6 499.0,1228.1 499.9,1254.1 500.7,1255.5 501.5,1281.9 502.4,1258.5 503.2,1219.3 504.0,1220.4 504.8,1271.0 505.7,1228.9 506.5,1195.7 507.3,1070.3 508.2,1098.8 509.0,1146.5 509.8,1230.5 510.6,1265.5 511.5,1238.3 512.3,1244.4 513.1,1242.9 514.0,1229.1 514.8,1215.3 515.6,1190.7 516.4,1064.3 517.3,1139.1 518.1,1164.8 518.9,1226.5 519.8,1301.2 520.6,1336.2 521.4,1322.9 522.2,1247.0 523.1,1204.7 523.9,1240.8 524.7,1238.6 525.6,1265.3 526.4,1295.2 527.2,1294.9 528.0,1255.3 528.9,1307.9 529.7,1348.0 530.5,1319.9 531.4,1284.1 532.2,1279.0 533.0,1281.2 533.8,1221.8 534.7,1216.3 535.5,1204.4 536.3,1190.3 537.2,1225.5 538.0,1238.7 538.8,1261.0 539.7,1283.2 540.5,1311.1 541.3,1259.1 542.1,1227.0 543.0,1228.8 543.8,1268.0 544.6,1205.4 545.5,1143.8 546.3,1032.0 547.1,1212.8 547.9,1303.9 548.8,1302.4 549.6,1243.9 550.4,1240.7 551.3,1176.1 552.1,1119.3 552.9,1167.1 553.7,1235.0 554.6,1274.9 555.4,1258.6 556.2,1227.6 557.1,1261.0 557.9,1203.5 558.7,1160.8 559.5,1117.4 560.4,1098.1 561.2,1160.9 562.0,1221.7 562.9,1238.1 563.7,1220.5 564.5,1227.5 565.3,1262.4 566.2,1275.0 567.0,1297.7 567.8,1309.6 568.7,1357.5 569.5,1338.0 570.3,1325.1 571.1,1310.3 572.0,1289.0 572.8,1263.8 573.6,1201.1 574.5,1205.1 575.3,1300.2 576.1,1350.2 576.9,1375.7 577.8,1348.5 578.6,1335.5 579.4,1340.2 580.3,1349.8 581.1,1362.7 581.9,1403.8 582.7,1413.2 583.6,1384.9 584.4,1318.1 585.2,1303.5 586.1,1333.6 586.9,1352.9 587.7,1360.2 588.5,1333.5 589.4,1327.9 590.2,1353.4 591.0,1355.0 591.9,1339.3 592.7,1365.9 593.5,1391.5 594.3,1441.9 595.2,1454.8 596.0,1449.0 596.8,1420.0 597.7,1397.6 598.5,1382.9 599.3,1379.3 600.1,1370.8 601.0,1489.5 601.8,1392.8 602.6,1432.0 603.5,1408.0 604.3,1349.2 605.1,1342.7 605.9,1347.8 606.8,1405.2 607.6,1462.1 608.4,1463.6 609.3,1391.4 610.1,1363.0 610.9,1371.1 611.7,1336.4 612.6,1378.3 613.4,1379.8 614.2,1358.5 615.1,1347.8 615.9,1337.1 616.7,1262.2 617.5,1287.3 618.4,1339.7 619.2,1375.3 620.0,1396.2 620.9,1414.1 621.7,1346.1 622.5,1290.8 623.3,1330.6 624.2,1374.9 625.0,1193.6 625.8,1343.8 626.7,1360.5 627.5,1361.8 628.3,1344.0 629.1,1318.3 630.0,1301.0 630.8,1358.6 631.6,1333.1 632.5,1312.4 633.3,1261.0 634.1,1220.6 634.9,1222.6 635.8,1339.8 636.6,1382.7 637.4,1393.7 638.3,1388.0 639.1,1390.9 639.9,1329.5 640.7,1313.9 641.6,1362.5 642.4,1397.6 643.2,1427.0 644.1,1407.5 644.9,1383.0 645.7,1383.6 646.5,1360.4 647.4,1363.6 648.2,1347.7 649.0,1314.2 649.9,1328.8 650.7,1371.8 651.5,1387.3 652.3,1363.8 653.2,1347.7 654.0,1341.8 654.8,1349.3 655.7,1352.0 656.5,1341.9 657.3,1364.3 658.1,1387.1 659.0,1387.3 659.8,1390.6 660.6,1375.5 661.5,1345.7 662.3,1336.5 663.1,1360.5 663.9,1394.1 664.8,1357.6 665.6,1314.3 666.4,1342.8 667.3,1390.6 668.1,1361.4 668.9,1305.1 669.7,1298.3 670.6,1298.6 671.4,1370.9 672.2,1409.7 673.1,1395.6 673.9,1417.3 674.7,1425.6 675.5,1386.8 676.4,1327.7 677.2,1263.2 678.0,1350.3 678.9,1338.0 679.7,1362.5 680.5,1417.1 681.3,1434.5 682.2,1430.0 683.0,1377.9 683.8,1347.2 684.7,1464.6 685.5,1341.6 686.3,1363.5 687.1,1382.8 688.0,1387.0 688.8,1378.0 689.6,1379.9 690.5,1378.5 691.3,1390.9 692.1,1433.2 692.9,1447.3 693.8,1437.5 694.6,1418.0 695.4,1395.3 696.3,1399.0 697.1,1374.0 697.9,1338.8 698.7,1400.0 699.6,1435.9 700.4,1456.1 701.2,1487.1 702.1,1463.5 702.9,1426.1 703.7,1398.0 704.6,1395.2 705.4,1370.6 706.2,1341.0 707.0,1344.6 707.9,1356.6 708.7,1385.7 709.5,1403.1 710.4,1423.4 711.2,1418.5 712.0,1416.1 712.8,1392.3 713.7,1353.7 714.5,1338.1 715.3,1323.0 716.2,1282.5 717.0,1355.5 717.8,1412.4 718.6,1442.5 719.5,1440.0 720.3,1438.7 721.1,1407.4 722.0,1380.4 722.8,1377.6 723.6,1383.0 724.4,1397.7 725.3,1450.1 726.1,1422.7 726.9,1391.5 727.8,1388.3 728.6,1375.5 729.4,1386.1 730.2,1438.2 731.1,1421.3 731.9,1427.9 732.7,1412.9 733.6,1384.4 734.4,1329.7 735.2,1291.5 736.0,1308.0 736.9,1372.3 737.7,1420.0 738.5,1402.0 739.4,1332.8 740.2,1295.8 741.0,1328.4 741.8,1464.6 742.7,1375.9 743.5,1399.9 744.3,1404.9 745.2,1374.9 746.0,1343.1 746.8,1308.0 747.6,1280.4 748.5,1291.2 749.3,1391.3 750.1,1456.8 751.0,1454.2 751.8,1398.1 752.6,1273.9 753.4,1230.0 754.3,1263.1 755.1,1294.9 755.9,1306.3 756.8,1334.4 757.6,1337.4 758.4,1366.4 759.2,1391.4 760.1,1344.1 760.9,1346.3 761.7,1314.6 762.6,1283.8 763.4,1267.7 764.2,1264.7 765.0,1281.6 765.9,1375.4 766.7,1433.3 767.5,1433.0 768.4,1356.3 769.2,1324.4 770.0,1324.6 770.8,1334.4 771.7,1296.5 772.5,1328.3 773.3,1379.3 774.2,1363.7 775.0,1389.8 775.8,1361.0 776.6,1334.4 777.5,1353.0 778.3,1355.8 779.1,1362.9 780.0,1335.1 780.8,1290.8 781.6,1219.4 782.4,1214.9 783.3,1250.0 784.1,1310.2 784.9,1335.2 785.8,1295.6 786.6,1324.0 787.4,1301.5 788.2,1293.9 789.1,1279.8 789.9,1258.3 790.7,1224.8 791.6,1220.6 792.4,1257.0 793.2,1274.0 794.0,1280.0 794.9,1283.0 795.7,1268.7 796.5,1225.5 797.4,1211.9 798.2,1222.1 799.0,1289.1 799.8,1315.1 800.7,1359.3 801.5,1307.1 802.3,1274.6 803.2,1191.7 804.0,1091.0 804.8,1090.3 805.6,1128.1 806.5,1199.1 807.3,1279.6 808.1,1334.4 809.0,1300.7 809.8,1197.8 810.6,1137.7 811.4,1207.5 812.3,1084.2 813.1,1326.3 813.9,1251.1 814.8,1181.2 815.6,1150.8 816.4,1128.7 817.2,1175.7 818.1,1236.6 818.9,1275.2 819.7,1338.8 820.6,1309.5 821.4,1241.0 822.2,1158.8 823.0,1194.6 823.9,1268.2 824.7,1267.5 825.5,1246.6 826.4,1185.1 827.2,1212.0 828.0,1241.6 828.8,1286.6 829.7,1287.1 830.5,1287.2 831.3,1254.2 832.2,1195.5 833.0,1167.7 833.8,1260.8 834.6,1281.6 835.5,1269.4 836.3,1291.4 837.1,1316.5 838.0,1302.7 838.8,1252.9 839.6,1237.6 840.4,1291.4 841.3,1295.2 842.1,1270.4 842.9,1156.6 843.8,1180.3 844.6,1139.2 845.4,1107.2 846.2,1149.0 847.1,1165.7 847.9,1215.2 848.7,1227.9 849.6,1104.1 850.4,1285.1 851.2,1310.1 852.0,1348.2 852.9,1333.5 853.7,1307.3 854.5,1247.8 855.4,1171.3 856.2,1177.8 857.0,1224.1 857.8,1267.8 858.7,1345.3 859.5,1347.1 860.3,1311.8 861.2,1276.0 862.0,1291.7 862.8,1357.3 863.6,1370.2 864.5,1330.5 865.3,1246.7 866.1,1183.5 867.0,1171.7 867.8,1204.3 868.6,1245.6 869.4,1306.6 870.3,1321.9 871.1,1296.3 871.9,1203.3 872.8,1194.0 873.6,1287.1 874.4,1315.0 875.3,1352.6 876.1,1359.5 876.9,1351.8 877.7,1357.5 878.6,1308.4 879.4,1270.7 880.2,1297.5 881.1,1331.6 881.9,1364.1 882.7,1355.4 883.5,1352.6 884.4,1365.0 885.2,1377.8 886.0,1379.5 886.9,1355.9 887.7,1359.8 888.5,1358.2 889.3,1340.6 890.2,1270.2 891.0,1245.2 891.8,1363.8 892.7,1436.5 893.5,1448.3 894.3,1399.9 895.1,1304.5 896.0,1248.7 896.8,1330.1 897.6,1379.4 898.5,1390.8 899.3,1366.1 900.1,1302.6 900.9,1313.3 901.8,1303.0 902.6,1359.4 903.4,1380.1 904.3,1361.9 905.1,1273.4 905.9,1270.3 906.7,1349.2 907.6,1369.7 908.4,1383.0 909.2,1326.8 910.1,1314.7 910.9,1342.7 911.7,1321.6 912.5,1312.8 913.4,1211.0 914.2,1338.8 915.0,1319.2 915.9,1331.1 916.7,1315.8 917.5,1342.9 918.3,1393.7 919.2,1400.3 920.0,1365.3 920.8,1280.9 921.7,1243.5 922.5,1245.1 923.3,1271.3 924.1,1228.8 925.0,1279.4 925.8,1301.5 926.6,1335.5 927.5,1347.6 928.3,1363.4 929.1,1329.1 929.9,1346.2 930.8,1386.6 931.6,1393.3 932.4,1400.9 933.3,1358.9 934.1,1298.9 934.9,1306.3 935.7,1310.0 936.6,1349.7 937.4,1372.3 938.2,1374.6 939.1,1314.3 939.9,1196.1 940.7,1337.1 941.5,1391.4 942.4,1375.1 943.2,1395.6 944.0,1399.5 944.9,1389.5 945.7,1426.6 946.5,1426.3 947.3,1369.1 948.2,1321.6 949.0,1337.1 949.8,1342.7 950.7,1344.8 951.5,1306.0 952.3,1333.9 953.1,1378.8 954.0,1400.1 954.8,1403.1 955.6,1387.1 956.5,1372.8 957.3,1379.8 958.1,1416.7 958.9,1428.9 959.8,1438.6 960.6,1433.5 961.4,1410.7 962.3,1363.5 963.1,1313.1 963.9,1337.4 964.7,1360.6 965.6,1358.9 966.4,1364.8 967.2,1409.0 968.1,1464.5 968.9,1434.4 969.7,1361.3 970.5,1311.1 971.4,1338.2 972.2,1335.0 973.0,1321.2 973.9,1339.6 974.7,1371.6 975.5,1434.0 976.3,1421.6 977.2,1424.3 978.0,1380.2 978.8,1324.0 979.7,1305.7 980.5,1280.9 981.3,1316.6 982.1,1346.0 983.0,1351.6 983.8,1354.9 984.6,1372.0 985.5,1348.3 986.3,1331.8 987.1,1345.0 987.9,1225.9 988.8,1379.7 989.6,1326.2 990.4,1315.1 991.3,1345.6 992.1,1404.4 992.9,1453.4 993.7,1473.4 994.6,1453.8 995.4,1397.7 996.2,1380.7 997.1,1407.7 997.9,1421.8 998.7,1426.1 999.5,1440.2 1000.4,1418.4 1001.2,1389.6 1002.0,1374.4 1002.9,1358.6 1003.7,1384.3 1004.5,1497.0 1005.3,1406.7 1006.2,1411.4 1007.0,1395.5 1007.8,1394.0 1008.7,1388.9 1009.5,1418.9 1010.3,1458.0 1011.1,1455.8 1012.0,1439.9 1012.8,1395.4 1013.6,1364.9 1014.5,1346.8 1015.3,1352.2 1016.1,1371.7 1016.9,1392.2 1017.8,1411.7 1018.6,1423.6 1019.4,1369.0 1020.3,1386.6 1021.1,1402.5 1021.9,1383.6 1022.7,1364.8 1023.6,1333.3 1024.4,1330.5 1025.2,1389.7 1026.1,1430.6 1026.9,1466.3 1027.7,1430.3 1028.5,1356.2 1029.4,1338.9 1030.2,1344.6 1031.0,1383.2 1031.9,1441.8 1032.7,1463.1 1033.5,1475.6 1034.3,1455.1 1035.2,1408.3 1036.0,1354.6 1036.8,1311.9 1037.7,1333.9 1038.5,1369.0 1039.3,1389.1 1040.1,1384.4 1041.0,1442.7 1041.8,1461.8 1042.6,1408.3 1043.5,1381.1 1044.3,1348.8 1045.1,1312.6 1046.0,1364.3 1046.8,1395.1 1047.6,1388.6 1048.4,1367.0 1049.3,1383.7 1050.1,1366.9 1050.9,1359.6 1051.8,1323.3 1052.6,1294.6 1053.4,1312.9 1054.2,1328.0 1055.1,1354.4 1055.9,1374.1 1056.7,1402.8 1057.6,1384.0 1058.4,1314.9 1059.2,1263.3 1060.0,1255.3 1060.9,1296.6 1061.7,1338.7 1062.5,1325.1 1063.4,1348.2 1064.2,1276.1 1065.0,1242.4 1065.8,1179.6 1066.7,1162.3 1067.5,1233.1 1068.3,1283.1 1069.2,1141.4 1070.0,1299.8 1070.8,1263.2 1071.6,1270.0 1072.5,1301.2 1073.3,1324.1 1074.1,1359.4 1075.0,1350.4 1075.8,1303.5 1076.6,1254.2 1077.4,1229.7 1078.3,1254.3 1079.1,1255.8 1079.9,1333.0 1080.8,1365.2 1081.6,1352.3 1082.4,1281.3 1083.2,1212.6 1084.1,1179.6 1084.9,1212.5 1085.7,1237.5 1086.6,1308.3 1087.4,1336.0 1088.2,1391.0 1089.0,1316.9 1089.9,1196.0 1090.7,1180.9 1091.5,1249.0 1092.4,1365.8 1093.2,1389.9 1094.0,1388.5 1094.8,1304.1 1095.7,1277.6 1096.5,1269.3 1097.3,1280.7 1098.2,1260.2 1099.0,1219.0 1099.8,1218.6 1100.6,1231.1 1101.5,1241.2 1102.3,1317.0 1103.1,1314.5 1104.0,1269.1 1104.8,1185.0 1105.6,1215.5 1106.4,1203.7 1107.3,1221.6 1108.1,1214.2 1108.9,1155.3 1109.8,1201.9 1110.6,1276.8 1111.4,1245.3 1112.2,1243.9 1113.1,1253.9 1113.9,1204.7 1114.7,1173.3 1115.6,1125.0 1116.4,1116.8 1117.2,1149.1 1118.0,1147.4 1118.9,1076.0 1119.7,1096.2 1120.5,1092.2 1121.4,1091.4 1122.2,1135.8 1123.0,1169.7 1123.8,1232.9 1124.7,1270.4 1125.5,1237.8 1126.3,1190.8 1127.2,1098.3 1128.0,1137.8 1128.8,1192.1 1129.6,1240.5 1130.5,1242.6 1131.3,1162.2 1132.1,1166.2 1133.0,1134.4 1133.8,1158.3 1134.6,1187.6 1135.4,1152.3 1136.3,1145.5 1137.1,982.3 1137.9,1113.2 1138.8,1138.3 1139.6,1175.5 1140.4,1259.0 1141.2,1287.6 1142.1,1232.3 1142.9,1154.0 1143.7,1171.4 1144.6,1135.9 1145.4,1103.6 1146.2,1173.6 1147.0,1253.0 1147.9,1242.2 1148.7,1274.3 1149.5,1277.8 1150.4,1239.2 1151.2,1200.9 1152.0,1180.9 1152.8,1166.1 1153.7,1210.9 1154.5,1255.1 1155.3,1185.4 1156.2,1212.6 1157.0,1247.4 1157.8,1252.3 1158.6,1265.0 1159.5,1210.7 1160.3,1184.1 1161.1,1166.0 1162.0,1292.4 1162.8,1306.9 1163.6,1258.0 1164.4,1259.0 1165.3,1227.2 1166.1,1230.5 1166.9,1056.9 1167.8,1199.9 1168.6,1225.6 1169.4,1462.0 1170.2,1346.4 1171.1,1382.0 1171.9,1383.9 1172.7,1363.9 1173.6,1339.6 1174.4,1268.5 1175.2,1212.7 1176.0,1253.5 1176.9,1268.8 1177.7,1346.2 1178.5,1391.0 1179.4,1381.9 1180.2,1309.1 1181.0,1244.8 1181.8,1232.4 1182.7,1234.0 1183.5,1261.6 1184.3,1272.1 1185.2,1331.7 1186.0,1410.0 1186.8,1430.1 1187.6,1372.8 1188.5,1311.2 1189.3,1259.8 1190.1,1249.0 1191.0,1274.4 1191.8,1299.3 1192.6,1353.7 1193.4,1349.4 1194.3,1367.6 1195.1,1366.8 1195.9,1388.4 1196.8,1362.3 1197.6,1477.0 1198.4,1327.5 1199.2,1340.8 1200.1,1342.2 1200.9,1346.8 1201.7,1370.6 1202.6,1340.4 1203.4,1335.5 1204.2,1298.2 1205.0,1329.9 1205.9,1378.2 1206.7,1442.6 1207.5,1422.2 1208.4,1350.8 1209.2,1296.9 1210.0,1295.7 1210.9,1347.8 1211.7,1315.6 1212.5,1291.9 1213.3,1355.9 1214.2,1395.3 1215.0,1446.3 1215.8,1402.2 1216.7,1281.5 1217.5,1225.7 1218.3,1224.7 1219.1,1313.5 1220.0,1418.4 1220.8,1429.6 1221.6,1412.7 1222.5,1378.2 1223.3,1357.5 1224.1,1347.6 1224.9,1316.6 1225.8,1267.2 1226.6,1276.2 1227.4,1320.5 1228.3,1176.2 1229.1,1444.6 1229.9,1456.7 1230.7,1397.3 1231.6,1333.1 1232.4,1281.1 1233.2,1280.0 1234.1,1332.2 1234.9,1408.0 1235.7,1439.2 1236.5,1454.0 1237.4,1369.3 1238.2,1302.3 1239.0,1300.7 1239.9,1277.2 1240.7,1315.1 1241.5,1347.7 1242.3,1378.2 1243.2,1380.5 1244.0,1383.7 1244.8,1366.5 1245.7,1320.8 1246.5,1351.6 1247.3,1431.8 1248.1,1419.6 1249.0,1386.7 1249.8,1339.1 1250.6,1337.3 1251.5,1319.7 1252.3,1295.2 1253.1,1352.3 1253.9,1384.9 1254.8,1415.2 1255.6,1453.0 1256.4,1446.7 1257.3,1397.1 1258.1,1389.8 1258.9,1410.7 1259.7,1381.7 1260.6,1362.7 1261.4,1352.4 1262.2,1390.4 1263.1,1424.2 1263.9,1423.4 1264.7,1401.0 1265.5,1376.3 1266.4,1327.5 1267.2,1324.4 1268.0,1391.4 1268.9,1446.3 1269.7,1451.2 1270.5,1393.3 1271.3,1368.8 1272.2,1372.0 1273.0,1381.6 1273.8,1404.6 1274.7,1427.1 1275.5,1424.3 1276.3,1379.1 1277.1,1338.4 1278.0,1343.9 1278.8,1359.3 1279.6,1411.2 1280.5,1407.9 1281.3,1380.8 1282.1,1362.5 1282.9,1403.8 1283.8,1377.0 1284.6,1434.1 1285.4,1469.6 1286.3,1472.8 1287.1,1419.3 1287.9,1406.2 1288.7,1386.2 1289.6,1380.2 1290.4,1391.1 1291.2,1379.5 1292.1,1346.8 1292.9,1343.2 1293.7,1375.5 1294.5,1454.7 1295.4,1442.6 1296.2,1472.0 1297.0,1437.5 1297.9,1426.1 1298.7,1374.7 1299.5,1359.4 1300.3,1399.5 1301.2,1373.6 1302.0,1358.7 1302.8,1364.4 1303.7,1363.4 1304.5,1429.6 1305.3,1455.1 1306.1,1446.4 1307.0,1365.9 1307.8,1343.1 1308.6,1369.8 1309.5,1430.3 1310.3,1467.2 1311.1,1459.6 1311.9,1419.5 1312.8,1389.6 1313.6,1330.3 1314.4,1320.2 1315.3,1340.7 1316.1,1353.3 1316.9,1371.7 1317.7,1409.9 1318.6,1460.5 1319.4,1454.4 1320.2,1441.2 1321.1,1383.2 1321.9,1371.4 1322.7,1427.3 1323.5,1444.1 1324.4,1407.2 1325.2,1383.4 1326.0,1370.5 1326.9,1372.4 1327.7,1345.2 1328.5,1347.9 1329.3,1375.7 1330.2,1416.1 1331.0,1465.7 1331.8,1431.3 1332.7,1366.5 1333.5,1361.4 1334.3,1359.3 1335.1,1366.3 1336.0,1391.6 1336.8,1411.6 1337.6,1394.2 1338.5,1406.4 1339.3,1414.7 1340.1,1405.8 1340.9,1388.9 1341.8,1379.8 1342.6,1369.1 1343.4,1354.5 1344.3,1380.1 1345.1,1391.4 1345.9,1403.1 1346.7,1359.9 1347.6,1374.8 1348.4,1388.0 1349.2,1371.3 1350.1,1366.0 1350.9,1371.3 1351.7,1384.0 1352.5,1372.9 1353.4,1388.4 1354.2,1385.0 1355.0,1371.1 1355.9,1391.3 1356.7,1378.0 1357.5,1368.9 1358.3,1346.7 1359.2,1309.5 1360.0,1297.2 1360.8,1346.4 1361.7,1364.0 1362.5,1404.7 1363.3,1415.8 1364.1,1336.2 1365.0,1279.2 1365.8,1221.3 1366.6,1243.5 1367.5,1296.8 1368.3,1369.9 1369.1,1360.2 1369.9,1336.3 1370.8,1289.2 1371.6,1254.3 1372.4,1241.7 1373.3,1254.4 1374.1,1286.8 1374.9,1310.4 1375.7,1337.0 1376.6,1393.8 1377.4,1360.3 1378.2,1232.2 1379.1,1138.3 1379.9,1133.5 1380.7,1131.4 1381.6,1257.1 1382.4,1375.4 1383.2,1370.0 1384.0,1304.4 1384.9,1249.0 1385.7,1194.8 1386.5,1226.2 1387.4,1242.7 1388.2,1267.9 1389.0,1268.7 1389.8,1215.4 1390.7,1199.8 1391.5,1158.8 1392.3,1126.3 1393.2,1192.0 1394.0,1168.1 1394.8,1234.6 1395.6,1276.1 1396.5,1255.5 1397.3,1310.9 1398.1,1269.8 1399.0,1181.4 1399.8,1154.3 1400.6,1166.5 1401.4,1198.3 1402.3,1241.0 1403.1,1221.9 1403.9,1228.6 1404.8,1235.5 1405.6,1223.9 1406.4,1187.8 1407.2,1145.6 1408.1,1219.8 1408.9,1337.5 1409.7,1359.5 1410.6,1309.8 1411.4,1277.4 1412.2,1222.7 1413.0,1167.2 1413.9,1151.5 1414.7,1119.8 1415.5,1197.3 1416.4,1259.2 1417.2,1213.4 1418.0,1169.0 1418.8,1218.0 1419.7,1246.9 1420.5,1214.0 1421.3,1123.0 1422.2,1097.0 1423.0,1103.7 1423.8,1212.3 1424.6,1286.1 1425.5,1253.2 1426.3,1246.1 1427.1,1223.7 1428.0,1271.3 1428.8,1210.6 1429.6,1170.9 1430.4,1137.9 1431.3,1210.0 1432.1,1293.6 1432.9,1227.8 1433.8,1183.0 1434.6,1182.1 1435.4,1165.5 1436.2,1148.6 1437.1,975.8 1437.9,1309.3 1438.7,1295.3 1439.6,1242.2 1440.4,1178.5 1441.2,1170.2 1442.0,1192.9 1442.9,1204.2 1443.7,1234.3 1444.5,1265.4 1445.4,1269.0 1446.2,1234.8 1447.0,1199.0 1447.8,1193.0 1448.7,1200.3 1449.5,1204.5 1450.3,1192.0 1451.2,1173.4 1452.0,1227.2 1452.8,1210.9 1453.6,1257.9 1454.5,1074.3 1455.3,1242.9 1456.1,1208.0 1457.0,1148.1 1457.8,1222.4 1458.6,1242.4 1459.4,1236.8 1460.3,1244.9 1461.1,1225.7 1461.9,1231.9 1462.8,1228.0 1463.6,1260.5 1464.4,1233.3 1465.2,1189.6 1466.1,1151.5 1466.9,1191.9 1467.7,1163.9 1468.6,1104.7 1469.4,1136.9 1470.2,1221.4 1471.0,1289.6 1471.9,1280.7 1472.7,1218.0 1473.5,1218.1 1474.4,1301.1 1475.2,1307.7 1476.0,1284.1 1476.8,1248.4 1477.7,1210.0 1478.5,1252.5 1479.3,1044.4 1480.2,1305.2 1481.0,1294.9 1481.8,1238.7 1482.6,1227.7 1483.5,1279.7 1484.3,1274.6 1485.1,1256.1 1486.0,1269.8 1486.8,1343.7 1487.6,1389.3 1488.4,1367.1 1489.3,1305.3 1490.1,1281.4 1490.9,1267.1 1491.8,1300.9 1492.6,1474.6 1493.4,1339.4 1494.2,1340.7 1495.1,1334.3 1495.9,1307.8 1496.7,1280.0 1497.6,1315.8 1498.4,1359.0 1499.2,1413.4 1500.0,1448.9 1500.9,1415.9 1501.7,1378.7 1502.5,1390.5 1503.4,1368.3 1504.2,1370.4 1505.0,1373.7 1505.8,1358.7 1506.7,1339.4 1507.5,1340.5 1508.3,1399.4 1509.2,1399.4 1510.0,1392.3 1510.8,1403.4 1511.6,1439.0 1512.5,1382.8 1513.3,1327.8 1514.1,1300.9 1515.0,1293.6 1515.8,1321.3 1516.6,1390.7 1517.4,1396.1 1518.3,1354.4 1519.1,1313.6 1519.9,1269.5 1520.8,1245.9 1521.6,1299.6 1522.4,1377.8 1523.2,1391.5 1524.1,1379.1 1524.9,1355.8 1525.7,1316.3 1526.6,1293.0 1527.4,1322.7 1528.2,1353.9 1529.0,1388.9 1529.9,1397.3 1530.7,1407.4 1531.5,1434.2 1532.4,1420.9 1533.2,1391.9 1534.0,1328.9 1534.8,1256.7 1535.7,1260.4 1536.5,1296.5 1537.3,1363.4 1538.2,1419.0 1539.0,1426.5 1539.8,1401.2 1540.6,1354.0 1541.5,1318.2 1542.3,1267.3 1543.1,1283.9 1544.0,1370.1 1544.8,1404.9 1545.6,1413.4 1546.5,1379.8 1547.3,1312.0 1548.1,1304.5 1548.9,1324.3 1549.8,1334.7 1550.6,1372.2 1551.4,1378.0 1552.3,1354.6 1553.1,1316.0 1553.9,1280.0 1554.7,1279.0 1555.6,1304.3 1556.4,1378.2 1557.2,1450.2 1558.1,1449.8 1558.9,1396.2 1559.7,1306.0 1560.5,1329.9 1561.4,1361.9 1562.2,1361.8 1563.0,1398.4 1563.9,1376.4 1564.7,1373.1 1565.5,1324.7 1566.3,1297.1 1567.2,1214.9 1568.0,1256.9 1568.8,1315.3 1569.7,1394.7 1570.5,1378.7 1571.3,1340.5 1572.1,1282.1 1573.0,1265.7 1573.8,1321.1 1574.6,1372.2 1575.5,1412.8 1576.3,1422.3 1577.1,1186.2 1577.9,1293.9 1578.8,1234.2 1579.6,1232.5 1580.4,1298.4 1581.3,1340.8 1582.1,1383.6 1582.9,1380.1 1583.7,1334.4 1584.6,1311.1 1585.4,1324.3 1586.2,1351.2 1587.1,1345.8 1587.9,1348.3 1588.7,1382.9 1589.5,1394.5 1590.4,1403.0 1591.2,1341.3 1592.0,1304.4 1592.9,1346.6 1593.7,1367.3 1594.5,1357.5 1595.3,1343.1 1596.2,1353.0 1597.0,1358.8 1597.8,1357.0 1598.7,1331.9 1599.5,1321.6 1600.3,1274.9 1601.1,1294.7 1602.0,1298.6 1602.8,1330.3 1603.6,1403.6 1604.5,1451.2 1605.3,1454.5 1606.1,1453.8 1606.9,1379.5 1607.8,1322.9 1608.6,1284.5 1609.4,1318.4 1610.3,1354.5 1611.1,1398.6 1611.9,1379.9 1612.7,1360.2 1613.6,1355.2 1614.4,1355.1 1615.2,1296.3 1616.1,1278.3 1616.9,1284.2 1617.7,1357.3 1618.5,1413.1 1619.4,1412.0 1620.2,1428.9 1621.0,1372.3 1621.9,1322.0 1622.7,1311.1 1623.5,1335.4 1624.3,1369.5 1625.2,1397.5 1626.0,1474.6 1626.8,1326.1 1627.7,1290.7 1628.5,1315.7" fill="none" stroke="#000" stroke-width="1.55" stroke-linejoin="miter" stroke-miterlimit="2"/>
<polyline points="116.0,1391.2 121.9,1386.2 129.9,1379.2 134.9,1371.3 139.8,1355.4 145.8,1345.4 151.8,1333.5 154.7,1315.6 156.7,1297.7 160.7,1289.7 162.7,1280.0 169.7,1260.8 175.6,1227.0 179.6,1222.0 187.6,1207.1 194.5,1191.2 198.5,1192.1 202.5,1204.1 207.5,1194.1 211.4,1167.3 214.4,1151.4 219.4,1140.4 221.4,1127.5 224.4,1099.7 228.3,1067.8 233.3,1049.0 236.3,1055.9 239.3,1079.8 242.3,1099.7 245.2,1101.7 249.2,1139.4 253.2,1167.3 259.2,1197.1 266.1,1207.1 269.1,1223.0 272.1,1230.9 275.1,1238.9 279.1,1258.8 281.0,1285.7 284.0,1311.6 291.0,1335.5 296.0,1321.5 298.9,1319.6 305.9,1296.7 309.9,1303.6 316.8,1297.7 323.8,1319.6 330.8,1357.3 336.7,1359.3 341.7,1359.3 347.7,1367.3 352.6,1351.4 357.6,1345.4 362.6,1343.4 366.6,1351.4 371.5,1353.4 380.5,1388.2 388.4,1394.1 396.4,1403.1 400.4,1398.1 405.4,1395.1 412.3,1403.1 420.0,1394.6 426.0,1386.6 431.9,1368.7 437.9,1350.8 443.9,1344.9 447.8,1330.9 451.8,1313.0 455.8,1319.0 463.8,1307.1 471.7,1279.2 479.7,1259.3 487.6,1225.5 494.6,1211.6 496.6,1207.6 501.5,1209.6 507.5,1171.8 512.5,1181.8 517.5,1180.8 521.4,1185.7 527.4,1199.7 532.4,1221.5 535.4,1205.6 539.3,1189.7 543.3,1183.8 547.3,1163.9 551.3,1154.9 556.2,1155.9 561.2,1183.8 567.2,1211.6 573.1,1251.4 579.1,1287.2 584.1,1319.0 589.1,1356.8 592.0,1370.7 597.0,1364.7 603.0,1366.7 609.9,1356.8 613.9,1330.9 617.9,1307.1 626.8,1307.1 634.8,1305.1 639.8,1323.0 646.7,1338.9 656.7,1332.9 664.6,1336.9 671.6,1338.9 678.5,1354.8 686.5,1374.7 692.5,1380.7 700.4,1382.6 706.4,1374.7 716.3,1356.8 724.3,1353.8 730.3,1356.8 738.0,1350.9 743.9,1340.9 749.9,1331.0 754.9,1305.1 759.8,1298.2 765.8,1302.1 771.8,1288.2 777.7,1283.3 782.7,1257.4 787.7,1243.5 793.6,1225.6 799.6,1213.6 802.6,1197.7 809.6,1192.8 815.5,1184.8 821.5,1190.8 826.5,1207.7 831.4,1213.6 836.4,1219.6 843.4,1205.7 849.3,1206.7 854.3,1215.6 860.3,1235.5 865.2,1261.4 871.2,1271.3 877.2,1287.2 881.2,1307.1 887.1,1315.1 893.1,1325.0 897.1,1325.0 903.0,1305.1 909.0,1306.1 915.0,1301.2 920.9,1299.2 926.9,1302.1 930.9,1309.1 936.8,1319.1 942.8,1325.0 948.8,1335.0 954.7,1348.9 960.7,1340.9 967.7,1342.9 973.6,1344.9 980.6,1331.0 988.6,1340.9 994.5,1360.8 1002.5,1370.8 1006.5,1380.7 1012.4,1370.8 1022.4,1363.8 1030.3,1370.8 1037.3,1370.8 1042.3,1338.9 1049.0,1320.0 1055.9,1284.7 1061.9,1260.9 1067.8,1250.9 1071.8,1239.0 1079.8,1231.0 1087.7,1239.0 1092.7,1217.1 1097.7,1203.2 1100.7,1195.2 1102.6,1171.4 1105.6,1147.5 1111.6,1133.6 1115.6,1117.7 1119.6,1128.6 1124.5,1117.7 1128.5,1109.7 1133.5,1101.8 1136.5,1087.8 1139.0,1077.9 1142.4,1089.8 1147.4,1105.7 1152.4,1149.5 1157.3,1163.4 1161.3,1183.3 1163.3,1219.1 1166.3,1245.0 1171.3,1250.9 1176.2,1260.9 1180.2,1274.8 1183.2,1292.7 1188.2,1300.6 1191.2,1306.6 1197.1,1300.6 1200.0,1307.2 1207.5,1319.6 1218.6,1308.4 1226.1,1315.9 1229.8,1329.6 1236.0,1334.5 1241.0,1328.3 1246.0,1343.2 1252.2,1354.4 1258.4,1353.2 1264.6,1360.6 1272.1,1356.9 1277.7,1350.1 1282.0,1364.4 1289.5,1362.5 1297.0,1374.3 1303.2,1375.5 1308.8,1368.1 1314.4,1376.8 1319.3,1375.5 1324.3,1368.1 1333.0,1370.6 1335.5,1359.4 1343.0,1349.4 1349.2,1339.5 1352.9,1325.8 1360.0,1313.6 1365.2,1291.0 1370.4,1271.9 1375.7,1252.7 1380.0,1231.8 1386.1,1221.4 1391.3,1191.8 1393.9,1193.5 1400.0,1184.0 1405.2,1185.7 1412.2,1184.8 1419.2,1190.1 1423.5,1183.1 1427.0,1153.5 1431.4,1148.3 1435.7,1139.6 1440.9,1164.0 1445.3,1139.6 1449.6,1144.8 1454.8,1160.5 1460.1,1181.4 1464.4,1172.7 1468.8,1183.1 1473.1,1195.3 1478.3,1214.4 1481.0,1242.3 1487.0,1254.4 1492.3,1277.1 1497.5,1320.6 1504.4,1327.5 1507.9,1331.0 1512.3,1315.4 1518.4,1324.1 1523.6,1329.3 1528.8,1322.3 1534.0,1317.1 1538.4,1324.1 1546.2,1313.6 1553.2,1321.5 1559.3,1317.1 1563.6,1306.7 1570.6,1294.5 1575.8,1292.7 1581.0,1301.4 1586.2,1308.4 1591.5,1315.4 1595.8,1336.2 1600.2,1331.0 1605.4,1325.8 1610.6,1318.0 1615.8,1325.8 1621.0,1331.0 1628.5,1339.7" fill="none" stroke="#ff0000" stroke-width="2.7" stroke-linejoin="round"/>
<rect x="115.8" y="948.1" width="1513.1" height="611.9" fill="none" stroke="#2e2e2e" stroke-width="1.6"/>
<line x1="115.8" y1="1560.0" x2="115.8" y2="1582.5" stroke="#2e2e2e" stroke-width="1.6"/>
<line x1="418.4" y1="1560.0" x2="418.4" y2="1582.5" stroke="#2e2e2e" stroke-width="1.6"/>
<line x1="721.0" y1="1560.0" x2="721.0" y2="1582.5" stroke="#2e2e2e" stroke-width="1.6"/>
<line x1="1023.7" y1="1560.0" x2="1023.7" y2="1582.5" stroke="#2e2e2e" stroke-width="1.6"/>
<line x1="1326.3" y1="1560.0" x2="1326.3" y2="1582.5" stroke="#2e2e2e" stroke-width="1.6"/>
<line x1="1628.9" y1="1560.0" x2="1628.9" y2="1582.5" stroke="#2e2e2e" stroke-width="1.6"/>
<text x="267.1" y="1591.8" font-size="25.6" text-anchor="middle" fill="#1a1a1a" >2019</text>
<text x="569.7" y="1591.8" font-size="25.6" text-anchor="middle" fill="#1a1a1a" >2020</text>
<text x="872.4" y="1591.8" font-size="25.6" text-anchor="middle" fill="#1a1a1a" >2021</text>
<text x="1175.0" y="1591.8" font-size="25.6" text-anchor="middle" fill="#1a1a1a" >2022</text>
<text x="1477.6" y="1591.8" font-size="25.6" text-anchor="middle" fill="#1a1a1a" >2023</text>
<text x="93.5" y="954.6" font-size="22.3" text-anchor="end" fill="#3a3a3a" textLength="37.9" lengthAdjust="spacingAndGlyphs">0.07</text>
<text x="93.5" y="1042.2" font-size="22.3" text-anchor="end" fill="#3a3a3a" textLength="37.9" lengthAdjust="spacingAndGlyphs">0.06</text>
<text x="93.5" y="1130.0" font-size="22.3" text-anchor="end" fill="#3a3a3a" textLength="37.9" lengthAdjust="spacingAndGlyphs">0.05</text>
<text x="93.5" y="1217.4" font-size="22.3" text-anchor="end" fill="#3a3a3a" textLength="37.9" lengthAdjust="spacingAndGlyphs">0.04</text>
<text x="93.5" y="1304.8" font-size="22.3" text-anchor="end" fill="#3a3a3a" textLength="37.9" lengthAdjust="spacingAndGlyphs">0.03</text>
<text x="93.5" y="1392.2" font-size="22.3" text-anchor="end" fill="#3a3a3a" textLength="37.9" lengthAdjust="spacingAndGlyphs">0.02</text>
<text x="93.5" y="1479.5" font-size="22.3" text-anchor="end" fill="#3a3a3a" textLength="37.9" lengthAdjust="spacingAndGlyphs">0.01</text>
<text x="93.5" y="1565.3" font-size="22.3" text-anchor="end" fill="#3a3a3a" >0</text>
<text x="1640.5" y="955.8" font-size="22.3" text-anchor="start" fill="#3a3a3a" textLength="37.9" lengthAdjust="spacingAndGlyphs">0.08</text>
<text x="1640.5" y="1032.7" font-size="22.3" text-anchor="start" fill="#3a3a3a" textLength="37.9" lengthAdjust="spacingAndGlyphs">0.07</text>
<text x="1640.5" y="1109.4" font-size="22.3" text-anchor="start" fill="#3a3a3a" textLength="37.9" lengthAdjust="spacingAndGlyphs">0.06</text>
<text x="1640.5" y="1186.5" font-size="22.3" text-anchor="start" fill="#3a3a3a" textLength="37.9" lengthAdjust="spacingAndGlyphs">0.05</text>
<text x="1640.5" y="1264.1" font-size="22.3" text-anchor="start" fill="#3a3a3a" textLength="37.9" lengthAdjust="spacingAndGlyphs">0.04</text>
<text x="1640.5" y="1340.6" font-size="22.3" text-anchor="start" fill="#3a3a3a" textLength="37.9" lengthAdjust="spacingAndGlyphs">0.03</text>
<text x="1640.5" y="1417.1" font-size="22.3" text-anchor="start" fill="#3a3a3a" textLength="37.9" lengthAdjust="spacingAndGlyphs">0.02</text>
<text x="1640.5" y="1493.8" font-size="22.3" text-anchor="start" fill="#3a3a3a" textLength="37.9" lengthAdjust="spacingAndGlyphs">0.01</text>
<text x="1640.5" y="1569.8" font-size="22.3" text-anchor="start" fill="#3a3a3a" >0</text>
<text x="871.5" y="1650.7" font-size="45.5" text-anchor="middle" fill="#000" textLength="83" lengthAdjust="spacingAndGlyphs">Year</text>
<text transform="translate(30.6,1498.8) rotate(-90)" font-size="34" fill="#000" textLength="499.3" lengthAdjust="spacingAndGlyphs">Monthly Moving Average (ppm)</text>
<text transform="translate(1720.6,1089.2) rotate(90)" font-size="34.5" fill="#000" textLength="321.4" lengthAdjust="spacingAndGlyphs">Daily Average (ppm)</text>
<line x1="1474" y1="977.6" x2="1501.4" y2="977.6" stroke="#e03030" stroke-width="2"/>
<line x1="1474" y1="1001.1" x2="1501.4" y2="1001.1" stroke="#303030" stroke-width="2"/>
<text x="1508.7" y="982.4" font-size="17.4" text-anchor="start" fill="#333" textLength="93" lengthAdjust="spacingAndGlyphs">Monthly MA</text>
<text x="1508.7" y="1006.5" font-size="17.4" text-anchor="start" fill="#333" textLength="99" lengthAdjust="spacingAndGlyphs">Daily average</text>
<polyline points="113.5,2143.0 114.3,2218.1 115.2,2158.9 116.0,2245.6 116.8,2244.4 117.7,2233.9 118.5,2258.4 119.3,2257.6 120.1,2254.8 121.0,2152.2 121.8,2116.8 122.6,2154.0 123.5,2224.0 124.3,1972.9 125.1,2296.3 125.9,2285.6 126.8,2241.8 127.6,2206.8 128.4,2169.2 129.3,2176.7 130.1,2215.8 130.9,2203.4 131.7,2196.3 132.6,2224.5 133.4,2246.6 134.2,2243.6 135.1,2189.7 135.9,2189.4 136.7,2230.2 137.5,2245.3 138.4,2275.5 139.2,2286.8 140.0,2266.0 140.9,2235.3 141.7,2227.9 142.5,2222.1 143.3,2293.8 144.2,2294.7 145.0,2292.6 145.8,2301.4 146.7,2276.4 147.5,2228.7 148.3,2212.6 149.2,2244.4 150.0,2255.2 150.8,2253.1 151.6,2207.8 152.5,2165.8 153.3,2159.0 154.1,2149.0 155.0,2178.1 155.8,2136.0 156.6,2226.5 157.4,2199.4 158.3,2180.5 159.1,2195.6 159.9,2194.9 160.8,2244.7 161.6,2234.4 162.4,2072.0 163.2,2205.9 164.1,2204.3 164.9,2217.4 165.7,1853.0 166.6,2222.9 167.4,2242.8 168.2,2214.0 169.0,2155.9 169.9,2198.5 170.7,2161.4 171.5,2224.3 172.4,2223.5 173.2,2171.5 174.0,2184.1 174.8,2192.8 175.7,2229.9 176.5,2214.5 177.3,2095.0 178.2,2217.6 179.0,2273.8 179.8,2270.4 180.6,2232.6 181.5,2206.9 182.3,2200.0 183.1,2226.4 184.0,2280.1 184.8,2316.3 185.6,2333.1 186.4,2293.5 187.3,2287.5 188.1,2292.3 188.9,2296.8 189.8,2291.2 190.6,2272.8 191.4,2296.3 192.2,2332.7 193.1,2334.7 193.9,2295.5 194.7,2244.1 195.6,2235.2 196.4,2269.4 197.2,2299.7 198.0,2319.9 198.9,2312.9 199.7,2319.9 200.5,2316.4 201.4,2312.9 202.2,2297.6 203.0,2289.4 203.8,2239.4 204.7,2223.2 205.5,2222.4 206.3,2302.8 207.2,2348.7 208.0,2362.2 208.8,2330.2 209.6,2329.7 210.5,2292.9 211.3,2237.6 212.1,2260.5 213.0,2305.1 213.8,2331.5 214.6,2324.2 215.5,2291.3 216.3,2215.2 217.1,2209.5 217.9,2228.9 218.8,2268.3 219.6,2261.1 220.4,2253.2 221.3,2233.6 222.1,2272.5 222.9,2299.6 223.7,2318.5 224.6,2288.2 225.4,2245.7 226.2,2245.4 227.1,2275.1 227.9,2285.3 228.7,2300.4 229.5,2315.8 230.4,2299.8 231.2,2225.2 232.0,2212.8 232.9,2256.3 233.7,2316.7 234.5,2356.8 235.3,2342.3 236.2,2298.1 237.0,2262.3 237.8,2254.9 238.7,2274.4 239.5,2297.4 240.3,2336.5 241.1,2349.9 242.0,2333.1 242.8,2320.5 243.6,2313.9 244.5,2319.2 245.3,2322.6 246.1,2303.7 246.9,2303.0 247.8,2311.8 248.6,2300.1 249.4,2286.4 250.3,2255.5 251.1,2310.4 251.9,2322.7 252.7,2333.0 253.6,2327.6 254.4,2301.4 255.2,2266.6 256.1,2249.1 256.9,2270.0 257.7,2273.4 258.5,2304.3 259.4,2329.7 260.2,2325.6 261.0,2328.7 261.9,2283.5 262.7,2251.6 263.5,2238.7 264.3,2255.1 265.2,2317.2 266.0,2345.2 266.8,2339.6 267.7,2336.5 268.5,2320.3 269.3,2307.6 270.1,2271.4 271.0,2288.5 271.8,2293.7 272.6,2323.7 273.5,2351.1 274.3,2364.8 275.1,2371.2 275.9,2351.2 276.8,2306.3 277.6,2282.7 278.4,2280.8 279.3,2273.3 280.1,2294.4 280.9,2322.5 281.8,2345.4 282.6,2373.7 283.4,2358.7 284.2,2360.3 285.1,2337.8 285.9,2317.3 286.7,2288.0 287.6,2294.9 288.4,2335.7 289.2,2348.7 290.0,2357.7 290.9,2354.9 291.7,2343.1 292.5,2333.6 293.4,2330.9 294.2,2344.5 295.0,2349.5 295.8,2375.2 296.7,2371.9 297.5,2367.1 298.3,2329.5 299.2,2272.6 300.0,2306.4 300.8,2333.6 301.6,2345.1 302.5,2358.8 303.3,2345.0 304.1,2335.6 305.0,2352.9 305.8,2356.7 306.6,2349.3 307.4,2335.8 308.3,2344.1 309.1,2335.9 309.9,2314.0 310.8,2334.4 311.6,2353.5 312.4,2357.3 313.2,2357.1 314.1,2316.0 314.9,2293.5 315.7,2323.1 316.6,2358.2 317.4,2369.1 318.2,2325.9 319.0,2306.2 319.9,2312.2 320.7,2323.8 321.5,2344.2 322.4,2316.0 323.2,2327.0 324.0,2332.5 324.8,2343.6 325.7,2343.2 326.5,2365.1 327.3,2344.0 328.2,2334.5 329.0,2336.4 329.8,2358.9 330.6,2375.1 331.5,2364.2 332.3,2331.5 333.1,2301.7 334.0,2283.7 334.8,2291.5 335.6,2324.1 336.4,2339.6 337.3,2341.5 338.1,2347.2 338.9,2336.5 339.8,2310.0 340.6,2307.5 341.4,2332.2 342.2,2340.0 343.1,2310.4 343.9,2313.2 344.7,2332.0 345.6,2348.8 346.4,2334.3 347.2,2356.6 348.1,2355.3 348.9,2325.6 349.7,2325.8 350.5,2301.8 351.4,2292.9 352.2,2318.2 353.0,2334.2 353.9,2360.7 354.7,2367.5 355.5,2322.5 356.3,2302.2 357.2,2259.5 358.0,2264.3 358.8,2271.9 359.7,2296.8 360.5,2351.5 361.3,2369.9 362.1,2347.0 363.0,2330.2 363.8,2328.8 364.6,2310.0 365.5,2181.8 366.3,2328.2 367.1,2339.7 367.9,2314.1 368.8,2299.1 369.6,2267.2 370.4,2231.0 371.3,2243.5 372.1,2303.9 372.9,2349.9 373.7,2353.9 374.6,2316.5 375.4,2274.5 376.2,2248.2 377.1,2270.6 377.9,2296.2 378.7,2322.3 379.5,2335.0 380.4,2350.8 381.2,2365.4 382.0,2356.2 382.9,2347.5 383.7,2337.8 384.5,2307.1 385.3,2285.2 386.2,2217.8 387.0,2214.4 387.8,2254.9 388.7,2294.9 389.5,2310.0 390.3,2323.7 391.1,2301.8 392.0,2298.2 392.8,2343.7 393.6,2334.1 394.5,2317.4 395.3,2259.9 396.1,2246.1 396.9,2283.3 397.8,2106.6 398.6,2283.7 399.4,2284.1 400.3,2246.6 401.1,2230.5 401.9,2242.8 402.7,2261.4 403.6,2256.3 404.4,2274.3 405.2,2267.6 406.1,2246.3 406.9,2181.5 407.7,2163.0 408.5,2251.7 409.4,2273.2 410.2,2287.3 411.0,2280.9 411.9,2268.2 412.7,2228.0 413.5,2240.3 414.4,2264.3 415.2,2320.6 416.0,2334.2 416.8,2289.7 417.7,2253.4 418.5,2246.8 419.3,2274.6 420.2,2273.0 421.0,2264.8 421.8,2280.4 422.6,2271.5 423.5,2256.9 424.3,2236.0 425.1,2257.5 426.0,2238.0 426.8,2236.4 427.6,2259.9 428.4,2290.9 429.3,2305.0 430.1,2287.1 430.9,2276.2 431.8,2245.5 432.6,2231.7 433.4,2217.8 434.2,2223.5 435.1,2259.0 435.9,2322.4 436.7,2332.8 437.6,2302.7 438.4,2264.5 439.2,2231.9 440.0,2246.1 440.9,2279.2 441.7,2137.2 442.5,2289.8 443.4,2265.8 444.2,2267.7 445.0,2300.2 445.8,2310.8 446.7,2276.8 447.5,2240.9 448.3,2256.3 449.2,2244.3 450.0,2221.2 450.8,2174.0 451.6,2225.2 452.5,2233.2 453.3,2250.1 454.1,2258.9 455.0,2292.0 455.8,2276.2 456.6,2261.4 457.4,2214.7 458.3,2174.0 459.1,2284.2 459.9,2273.2 460.8,2276.7 461.6,2270.7 462.4,2256.4 463.2,2249.5 464.1,2277.4 464.9,2300.3 465.7,2291.5 466.6,2256.8 467.4,2252.7 468.2,2270.9 469.0,2291.1 469.9,2284.0 470.7,2307.8 471.5,2336.5 472.4,2332.1 473.2,2329.7 474.0,2320.8 474.8,2301.0 475.7,2270.8 476.5,2286.6 477.3,2282.1 478.2,2316.0 479.0,2314.8 479.8,2329.1 480.7,2340.9 481.5,2314.9 482.3,2296.1 483.1,2297.6 484.0,2304.7 484.8,2297.3 485.6,2291.8 486.5,2290.8 487.3,2268.8 488.1,2284.8 488.9,2305.8 489.8,2319.4 490.6,2296.6 491.4,2254.9 492.3,2221.0 493.1,2239.6 493.9,2283.7 494.7,2298.9 495.6,2312.9 496.4,2303.1 497.2,2279.0 498.1,2293.4 498.9,2310.6 499.7,2317.7 500.5,2283.2 501.4,2220.8 502.2,2222.1 503.0,2268.3 503.9,2347.7 504.7,2364.4 505.5,2346.1 506.3,2332.6 507.2,2297.2 508.0,2311.0 508.8,2322.4 509.7,2324.0 510.5,2339.6 511.3,2325.1 512.1,2288.4 513.0,2308.9 513.8,2345.3 514.6,2344.1 515.5,2332.0 516.3,2337.4 517.1,2337.5 517.9,2332.0 518.8,2326.1 519.6,2303.2 520.4,2291.1 521.3,2263.7 522.1,2249.0 522.9,2264.0 523.7,2281.2 524.6,2286.0 525.4,2294.7 526.2,2337.2 527.1,2340.2 527.9,2335.4 528.7,2296.9 529.5,2288.0 530.4,2294.9 531.2,2310.5 532.0,2294.9 532.9,2298.6 533.7,2320.2 534.5,2326.8 535.3,2333.3 536.2,2327.0 537.0,2318.0 537.8,2304.5 538.7,2259.4 539.5,2267.9 540.3,2295.0 541.2,2321.0 542.0,2318.6 542.8,2331.0 543.6,2338.4 544.5,2328.4 545.3,2301.7 546.1,2283.7 547.0,2294.7 547.8,2319.3 548.6,2235.3 549.4,2280.7 550.3,2260.0 551.1,2266.2 551.9,2279.9 552.8,2317.1 553.6,2334.3 554.4,2335.6 555.2,2318.0 556.1,2301.0 556.9,2317.1 557.7,2302.9 558.6,2262.1 559.4,2270.9 560.2,2291.7 561.0,2313.2 561.9,2314.8 562.7,2344.2 563.5,2328.8 564.4,2325.2 565.2,2301.0 566.0,2301.8 566.8,2327.5 567.7,2347.7 568.5,2342.2 569.3,2350.4 570.2,2356.9 571.0,2361.3 571.8,2379.7 572.6,2356.6 573.5,2323.3 574.3,2314.6 575.1,2305.5 576.0,2341.7 576.8,2365.8 577.6,2347.7 578.4,2318.9 579.3,2360.2 580.1,2392.4 580.9,2392.4 581.8,2392.4 582.6,2355.6 583.4,2328.1 584.2,2316.3 585.1,2348.0 585.9,2367.6 586.7,2364.1 587.6,2352.2 588.4,2343.0 589.2,2357.2 590.0,2358.7 590.9,2366.0 591.7,2345.6 592.5,2290.2 593.4,2303.8 594.2,2372.4 595.0,2392.4 595.8,2390.4 596.7,2349.5 597.5,2295.7 598.3,2305.5 599.2,2349.1 600.0,2350.4 600.8,2364.7 601.6,2349.4 602.5,2339.6 603.3,2320.5 604.1,2307.8 605.0,2303.5 605.8,2305.6 606.6,2345.3 607.5,2358.0 608.3,2358.7 609.1,2347.6 609.9,2312.5 610.8,2311.1 611.6,2340.1 612.4,2363.9 613.3,2371.0 614.1,2349.4 614.9,2343.6 615.7,2315.3 616.6,2304.8 617.4,2321.5 618.2,2360.7 619.1,2368.3 619.9,2351.3 620.7,2362.2 621.5,2343.6 622.4,2298.5 623.2,2290.3 624.0,2306.3 624.9,2293.1 625.7,2292.1 626.5,2339.9 627.3,2370.6 628.2,2379.7 629.0,2374.5 629.8,2392.2 630.7,2372.8 631.5,2358.7 632.3,2341.1 633.1,2335.5 634.0,2323.5 634.8,2335.4 635.6,2361.3 636.5,2362.0 637.3,2332.8 638.1,2328.2 638.9,2311.7 639.8,2317.6 640.6,2348.6 641.4,2339.9 642.3,2354.4 643.1,2343.4 643.9,2348.2 644.7,2342.1 645.6,2358.9 646.4,2372.7 647.2,2351.4 648.1,2326.4 648.9,2315.0 649.7,2328.0 650.5,2331.0 651.4,2353.8 652.2,2371.9 653.0,2363.7 653.9,2352.2 654.7,2342.9 655.5,2329.7 656.3,2319.9 657.2,2320.0 658.0,2288.0 658.8,2266.0 659.7,2255.3 660.5,2282.6 661.3,2326.3 662.1,2363.9 663.0,2368.4 663.8,2374.8 664.6,2358.7 665.5,2313.6 666.3,2239.7 667.1,2226.1 667.9,2258.2 668.8,2301.2 669.6,2332.5 670.4,2320.8 671.3,2303.3 672.1,2268.7 672.9,2207.2 673.8,2208.0 674.6,2208.8 675.4,2233.6 676.2,2302.8 677.1,2310.4 677.9,2275.3 678.7,2276.3 679.6,2287.7 680.4,2324.3 681.2,2335.7 682.0,2153.8 682.9,2288.2 683.7,2290.4 684.5,2318.9 685.4,2318.2 686.2,2292.8 687.0,2258.4 687.8,2248.2 688.7,2290.9 689.5,2275.4 690.3,2270.9 691.2,2278.5 692.0,2271.4 692.8,2314.2 693.6,2326.2 694.5,2318.7 695.3,2296.5 696.1,2247.7 697.0,2233.2 697.8,2294.4 698.6,2326.3 699.4,2324.3 700.3,2301.9 701.1,2122.0 701.9,2318.9 702.8,2301.6 703.6,2271.9 704.4,2251.6 705.2,2287.5 706.1,2268.4 706.9,2312.2 707.7,2326.1 708.6,2274.1 709.4,2236.9 710.2,2232.1 711.0,2122.0 711.9,2285.2 712.7,2310.5 713.5,2312.8 714.4,2304.3 715.2,2314.0 716.0,2297.1 716.8,2310.4 717.7,2322.2 718.5,2316.4 719.3,2307.6 720.2,2284.2 721.0,2247.5 721.8,2253.9 722.6,2287.8 723.5,2311.8 724.3,2322.2 725.1,2301.0 726.0,2286.0 726.8,2271.9 727.6,2279.5 728.4,2312.1 729.3,2312.0 730.1,2327.0 730.9,2328.0 731.8,2288.8 732.6,2295.4 733.4,2307.1 734.2,2336.0 735.1,2345.6 735.9,2353.0 736.7,2336.6 737.6,2315.7 738.4,2288.9 739.2,2236.2 740.1,2227.6 740.9,2241.3 741.7,2277.4 742.5,2307.5 743.4,2329.2 744.2,2353.6 745.0,2337.4 745.9,2273.9 746.7,2224.7 747.5,2242.8 748.3,2242.2 749.2,2277.9 750.0,2174.0 750.8,2340.9 751.7,2348.2 752.5,2327.3 753.3,2253.8 754.1,2223.4 755.0,2263.0 755.8,2308.9 756.6,2327.3 757.5,2349.6 758.3,2333.9 759.1,2293.7 759.9,2255.4 760.8,2241.6 761.6,2292.0 762.4,2347.3 763.3,2337.2 764.1,2292.8 764.9,2295.6 765.7,2295.2 766.6,2296.4 767.4,2287.6 768.2,2283.7 769.1,2300.6 769.9,2305.1 770.7,2303.6 771.5,2303.0 772.4,2331.6 773.2,2365.9 774.0,2366.7 774.9,2366.5 775.7,2325.2 776.5,2262.1 777.3,2232.4 778.2,2256.9 779.0,2187.0 779.8,2290.4 780.7,2305.6 781.5,2293.2 782.3,2268.2 783.1,2261.6 784.0,2242.1 784.8,2273.7 785.6,2283.4 786.5,2311.5 787.3,2331.6 788.1,2346.6 788.9,2327.6 789.8,2321.2 790.6,2311.7 791.4,2325.7 792.3,2312.7 793.1,2265.2 793.9,2258.7 794.7,2250.4 795.6,2267.7 796.4,2257.4 797.2,2278.9 798.1,2335.9 798.9,2331.0 799.7,2323.0 800.5,2331.5 801.4,2340.2 802.2,2360.0 803.0,2355.7 803.9,2352.3 804.7,2310.5 805.5,2272.2 806.4,2310.6 807.2,2359.7 808.0,2377.8 808.8,2383.9 809.7,2367.7 810.5,2332.7 811.3,2314.2 812.2,2313.7 813.0,2303.3 813.8,2269.6 814.6,2239.5 815.5,2256.2 816.3,2275.0 817.1,2317.4 818.0,2327.4 818.8,2340.7 819.6,2323.8 820.4,2327.6 821.3,2339.1 822.1,2336.5 822.9,2318.0 823.8,2332.8 824.6,1995.8 825.4,2337.1 826.2,2322.9 827.1,2325.9 827.9,2323.7 828.7,2325.6 829.6,2296.4 830.4,2278.4 831.2,2317.0 832.0,2369.2 832.9,2373.9 833.7,2332.0 834.5,2288.5 835.4,2255.3 836.2,2278.9 837.0,2338.1 837.8,2349.0 838.7,2343.6 839.5,2317.4 840.3,2329.8 841.2,2330.9 842.0,2338.2 842.8,2324.9 843.6,2326.0 844.5,2335.5 845.3,2345.3 846.1,2322.1 847.0,2305.1 847.8,2320.6 848.6,2345.4 849.4,2364.5 850.3,2336.1 851.1,2341.4 851.9,2350.9 852.8,2337.4 853.6,2298.6 854.4,2293.2 855.2,2293.2 856.1,2297.0 856.9,2296.8 857.7,2314.4 858.6,2301.4 859.4,2306.0 860.2,2293.0 861.0,2329.0 861.9,2336.6 862.7,2359.6 863.5,2384.6 864.4,2371.7 865.2,2361.6 866.0,2338.3 866.8,2343.6 867.7,2316.2 868.5,2313.5 869.3,2348.0 870.2,2359.7 871.0,2347.9 871.8,2350.6 872.7,2341.6 873.5,2299.8 874.3,2283.1 875.1,2306.4 876.0,2352.7 876.8,2363.9 877.6,2384.3 878.5,2392.4 879.3,2392.4 880.1,2392.4 880.9,2328.4 881.8,2284.9 882.6,2309.0 883.4,2360.9 884.3,2371.7 885.1,2377.3 885.9,2373.5 886.7,2359.4 887.6,2341.3 888.4,2328.9 889.2,2328.5 890.1,2313.2 890.9,2289.1 891.7,2335.9 892.5,2321.8 893.4,2324.5 894.2,2314.6 895.0,2339.8 895.9,2352.8 896.7,2353.8 897.5,2350.3 898.3,2330.0 899.2,2314.4 900.0,2341.0 900.8,2359.3 901.7,2353.4 902.5,2333.1 903.3,2333.9 904.1,2346.9 905.0,2356.2 905.8,2372.6 906.6,2388.5 907.5,2357.7 908.3,2335.9 909.1,2326.9 909.9,2347.8 910.8,2337.9 911.6,2306.2 912.4,2314.6 913.3,2329.5 914.1,2362.0 914.9,2346.9 915.7,2322.1 916.6,2338.3 917.4,2332.2 918.2,2332.2 919.1,2334.8 919.9,2339.2 920.7,2360.3 921.5,2374.6 922.4,2365.5 923.2,2355.0 924.0,2363.2 924.9,2329.3 925.7,2325.8 926.5,2350.3 927.3,2376.2 928.2,2373.7 929.0,2349.5 929.8,2334.5 930.7,2324.8 931.5,2366.5 932.3,2390.2 933.1,2392.4 934.0,2388.7 934.8,2363.7 935.6,2378.3 936.5,2329.1 937.3,2330.7 938.1,2342.6 939.0,2347.1 939.8,2344.1 940.6,2349.3 941.4,2392.4 942.3,2392.4 943.1,2392.4 943.9,2383.5 944.8,2377.4 945.6,2392.4 946.4,2381.1 947.2,2352.1 948.1,2354.7 948.9,2364.5 949.7,2371.1 950.6,2386.1 951.4,2387.8 952.2,2372.7 953.0,2345.8 953.9,2310.6 954.7,2312.2 955.5,2344.0 956.4,2359.4 957.2,2371.8 958.0,2386.6 958.8,2362.2 959.7,2344.6 960.5,2330.9 961.3,2318.1 962.2,2344.4 963.0,2345.7 963.8,2335.9 964.6,2333.0 965.5,2326.1 966.3,2341.1 967.1,2377.2 968.0,2382.7 968.8,2375.6 969.6,2337.9 970.4,2297.6 971.3,2299.6 972.1,2314.3 972.9,2301.4 973.8,2276.9 974.6,2272.5 975.4,2278.5 976.2,2302.2 977.1,2316.5 977.9,2308.6 978.7,2302.1 979.6,2289.7 980.4,2310.0 981.2,2342.8 982.0,2365.6 982.9,2359.2 983.7,2305.1 984.5,2233.6 985.4,2249.1 986.2,2318.2 987.0,2142.3 987.8,2323.3 988.7,2330.2 989.5,2306.4 990.3,2283.0 991.2,2251.1 992.0,2250.8 992.8,2257.4 993.6,2276.6 994.5,2315.4 995.3,2330.2 996.1,2334.6 997.0,2308.8 997.8,2306.2 998.6,2328.3 999.4,2321.4 1000.3,2287.6 1001.1,2246.2 1001.9,2229.9 1002.8,2294.2 1003.6,2344.4 1004.4,2363.6 1005.3,2349.1 1006.1,2353.7 1006.9,2334.6 1007.7,2304.7 1008.6,2197.0 1009.4,2302.6 1010.2,2279.4 1011.1,2278.5 1011.9,2268.6 1012.7,2258.9 1013.5,2266.7 1014.4,2278.2 1015.2,2299.6 1016.0,2282.1 1016.9,2282.0 1017.7,2291.6 1018.5,2282.0 1019.3,2287.5 1020.2,2279.8 1021.0,2249.4 1021.8,2246.0 1022.7,2258.2 1023.5,2255.7 1024.3,2248.8 1025.1,2291.9 1026.0,2328.7 1026.8,2304.4 1027.6,2267.1 1028.5,2290.5 1029.3,2318.5 1030.1,2035.3 1030.9,2309.3 1031.8,2280.5 1032.6,2252.3 1033.4,2231.8 1034.3,2267.2 1035.1,2274.1 1035.9,2230.1 1036.7,2241.1 1037.6,2232.6 1038.4,2224.0 1039.2,2228.8 1040.1,2259.3 1040.9,2308.9 1041.7,2339.6 1042.5,2324.4 1043.4,2274.1 1044.2,2218.7 1045.0,2201.2 1045.9,2211.3 1046.7,2266.6 1047.5,2324.4 1048.3,2333.5 1049.2,2307.5 1050.0,2277.1 1050.8,2293.0 1051.7,2307.3 1052.5,2331.3 1053.3,2323.2 1054.1,2318.4 1055.0,2303.6 1055.8,2148.7 1056.6,2262.2 1057.5,2233.1 1058.3,2267.7 1059.1,2330.8 1059.9,2328.0 1060.8,2280.5 1061.6,2211.0 1062.4,2197.2 1063.3,2218.9 1064.1,2260.0 1064.9,2310.9 1065.7,2330.0 1066.6,2304.3 1067.4,2125.7 1068.2,2215.3 1069.1,2239.5 1069.9,2281.2 1070.7,2280.3 1071.6,2290.3 1072.4,2311.5 1073.2,2333.5 1074.0,2335.8 1074.9,2289.2 1075.7,2241.0 1076.5,2222.2 1077.4,2189.0 1078.2,2271.9 1079.0,2284.7 1079.8,2306.6 1080.7,2319.1 1081.5,2309.2 1082.3,2269.8 1083.2,2256.0 1084.0,2258.0 1084.8,2236.1 1085.6,2273.7 1086.5,2329.0 1087.3,2330.1 1088.1,2312.5 1089.0,2298.0 1089.8,2288.7 1090.6,2301.8 1091.4,2304.5 1092.3,2317.9 1093.1,2308.7 1093.9,2328.2 1094.8,2345.9 1095.6,2342.0 1096.4,2336.0 1097.2,2309.0 1098.1,2294.6 1098.9,2308.2 1099.7,2315.3 1100.6,2325.2 1101.4,2348.2 1102.2,2362.1 1103.0,2357.5 1103.9,2339.2 1104.7,2313.0 1105.5,2271.3 1106.4,2255.0 1107.2,2236.4 1108.0,2236.6 1108.8,2279.3 1109.7,2287.0 1110.5,2279.8 1111.3,2302.4 1112.2,2315.4 1113.0,2299.7 1113.8,2293.0 1114.6,2279.1 1115.5,2281.8 1116.3,2288.0 1117.1,2314.9 1118.0,2326.7 1118.8,2335.4 1119.6,2324.4 1120.4,2342.4 1121.3,2338.8 1122.1,2304.6 1122.9,2277.2 1123.8,2284.2 1124.6,2296.7 1125.4,2331.9 1126.2,2356.3 1127.1,2359.7 1127.9,2345.7 1128.7,2306.5 1129.6,2304.2 1130.4,2291.5 1131.2,2330.0 1132.0,2355.7 1132.9,2355.4 1133.7,2320.9 1134.5,2306.4 1135.4,2343.6 1136.2,2347.5 1137.0,2339.6 1137.9,2344.2 1138.7,2354.0 1139.5,2357.4 1140.3,2343.8 1141.2,2313.8 1142.0,2330.4 1142.8,2294.0 1143.7,2290.9 1144.5,2316.6 1145.3,2326.1 1146.1,2332.6 1147.0,2289.7 1147.8,2263.8 1148.6,2291.0 1149.5,2337.3 1150.3,2363.9 1151.1,2371.2 1151.9,2349.4 1152.8,2339.5 1153.6,2298.8 1154.4,2296.2 1155.3,2319.6 1156.1,2325.8 1156.9,2366.5 1157.7,2389.1 1158.6,2371.4 1159.4,2346.7 1160.2,2324.7 1161.1,2313.2 1161.9,2333.1 1162.7,2351.6 1163.5,2375.5 1164.4,2392.4 1165.2,2368.7 1166.0,2349.5 1166.9,2344.3 1167.7,2312.2 1168.5,2287.3 1169.3,2310.5 1170.2,2349.6 1171.0,2365.6 1171.8,2377.7 1172.7,2360.9 1173.5,2338.4 1174.3,2321.7 1175.1,2309.7 1176.0,2307.7 1176.8,2291.9 1177.6,2282.7 1178.5,2344.0 1179.3,2364.2 1180.1,2384.6 1180.9,2392.4 1181.8,2377.1 1182.6,2360.7 1183.4,2350.1 1184.3,2323.8 1185.1,2334.9 1185.9,2363.9 1186.7,2369.1 1187.6,2345.8 1188.4,2322.9 1189.2,2354.7 1190.1,2378.0 1190.9,2382.6 1191.7,2342.2 1192.5,2301.3 1193.4,2287.9 1194.2,2291.2 1195.0,2331.2 1195.9,2358.2 1196.7,2363.0 1197.5,2375.6 1198.3,2374.4 1199.2,2357.6 1200.0,2362.9 1200.8,2350.2 1201.7,2331.8 1202.5,2314.9 1203.3,2340.8 1204.2,2362.0 1205.0,2347.0 1205.8,2327.5 1206.6,2345.0 1207.5,2357.3 1208.3,2338.7 1209.1,2338.3 1210.0,2341.0 1210.8,2304.1 1211.6,2310.3 1212.4,2341.1 1213.3,2380.5 1214.1,2392.4 1214.9,2373.2 1215.8,2349.2 1216.6,2360.0 1217.4,2378.3 1218.2,2380.6 1219.1,2362.6 1219.9,2360.1 1220.7,2346.0 1221.6,2353.9 1222.4,2355.6 1223.2,2349.6 1224.0,2340.7 1224.9,2353.6 1225.7,2366.8 1226.5,2364.5 1227.4,2378.9 1228.2,2377.5 1229.0,2362.6 1229.8,2331.8 1230.7,2330.3 1231.5,2350.2 1232.3,2366.9 1233.2,2382.1 1234.0,2385.0 1234.8,2370.6 1235.6,2350.5 1236.5,2361.3 1237.3,2370.0 1238.1,2392.4 1239.0,2385.9 1239.8,2372.8 1240.6,2353.5 1241.4,2362.3 1242.3,2367.0 1243.1,2361.4 1243.9,2339.0 1244.8,2362.2 1245.6,2361.3 1246.4,2364.1 1247.2,2374.6 1248.1,2368.7 1248.9,2365.6 1249.7,2365.7 1250.6,2372.7 1251.4,2368.0 1252.2,2359.8 1253.0,2355.7 1253.9,2366.8 1254.7,2374.2 1255.5,2363.4 1256.4,2327.6 1257.2,2316.8 1258.0,2301.7 1258.8,2318.5 1259.7,2362.2 1260.5,2369.2 1261.3,2377.4 1262.2,2362.2 1263.0,2324.5 1263.8,2314.9 1264.7,2325.6 1265.5,2291.5 1266.3,2289.0 1267.1,2305.7 1268.0,2313.5 1268.8,2327.8 1269.6,2334.4 1270.5,2327.6 1271.3,2355.9 1272.1,2333.8 1272.9,2328.0 1273.8,2335.4 1274.6,2321.9 1275.4,2307.9 1276.3,2323.4 1277.1,2323.5 1277.9,2335.5 1278.7,2341.5 1279.6,2352.7 1280.4,2350.5 1281.2,2179.2 1282.1,2290.8 1282.9,2269.6 1283.7,2256.7 1284.5,2276.0 1285.4,2315.6 1286.2,2335.4 1287.0,2309.3 1287.9,2286.9 1288.7,2278.9 1289.5,2292.8 1290.3,2305.7 1291.2,2307.9 1292.0,2312.8 1292.8,2318.5 1293.7,2332.3 1294.5,2345.7 1295.3,2333.9 1296.1,2303.6 1297.0,2268.6 1297.8,2271.2 1298.6,2313.7 1299.5,2324.4 1300.3,2317.3 1301.1,2335.6 1301.9,2325.2 1302.8,2301.8 1303.6,2258.4 1304.4,2286.1 1305.3,2338.1 1306.1,2342.1 1306.9,2357.3 1307.7,2355.9 1308.6,2349.2 1309.4,2340.1 1310.2,2346.7 1311.1,2332.4 1311.9,2289.0 1312.7,2248.7 1313.5,2236.6 1314.4,2264.8 1315.2,2260.6 1316.0,2257.8 1316.9,2243.3 1317.7,2285.0 1318.5,2295.1 1319.3,2206.0 1320.2,2295.8 1321.0,2272.2 1321.8,2278.9 1322.7,2277.9 1323.5,2248.8 1324.3,2232.6 1325.1,2230.7 1326.0,2272.5 1326.8,2304.0 1327.6,2326.6 1328.5,2082.4 1329.3,2259.9 1330.1,2216.3 1331.0,2219.5 1331.8,2275.9 1332.6,2294.8 1333.4,2302.5 1334.3,2328.3 1335.1,2350.1 1335.9,2337.0 1336.8,2319.6 1337.6,2256.4 1338.4,2226.9 1339.2,2264.5 1340.1,2305.3 1340.9,2292.4 1341.7,2299.8 1342.6,2286.3 1343.4,2269.8 1344.2,2239.3 1345.0,2237.4 1345.9,2274.8 1346.7,2295.4 1347.5,2303.0 1348.4,2284.9 1349.2,2277.4 1350.0,2235.7 1350.8,2240.6 1351.7,2258.7 1352.5,2297.0 1353.3,2308.3 1354.2,2138.5 1355.0,2289.4 1355.8,2254.5 1356.6,2259.2 1357.5,2290.1 1358.3,2281.7 1359.1,2280.6 1360.0,2290.3 1360.8,2267.9 1361.6,2237.9 1362.4,2294.3 1363.3,2318.1 1364.1,2177.0 1364.9,2250.9 1365.8,2238.9 1366.6,2210.9 1367.4,2243.6 1368.2,2280.0 1369.1,2291.6 1369.9,2290.3 1370.7,2265.5 1371.6,2229.0 1372.4,2233.3 1373.2,2225.8 1374.0,2264.3 1374.9,2294.8 1375.7,2272.1 1376.5,2256.5 1377.4,2184.0 1378.2,2254.1 1379.0,2284.9 1379.8,2298.8 1380.7,2296.1 1381.5,2293.2 1382.3,2286.1 1383.2,2262.0 1384.0,2228.2 1384.8,2231.2 1385.6,2241.9 1386.5,2245.2 1387.3,2285.2 1388.1,2328.5 1389.0,2304.6 1389.8,2247.3 1390.6,2226.5 1391.4,2237.1 1392.3,2292.1 1393.1,2338.8 1393.9,2340.0 1394.8,2342.6 1395.6,2307.4 1396.4,2286.5 1397.3,2269.9 1398.1,2228.2 1398.9,2203.1 1399.7,2225.6 1400.6,2254.3 1401.4,2308.6 1402.2,2336.5 1403.1,2326.5 1403.9,2276.8 1404.7,2148.7 1405.5,2258.2 1406.4,2274.0 1407.2,2316.9 1408.0,2331.8 1408.9,2301.5 1409.7,2278.9 1410.5,2267.9 1411.3,2263.3 1412.2,2298.7 1413.0,2299.6 1413.8,2274.3 1414.7,2244.6 1415.5,2234.4 1416.3,2279.3 1417.1,2332.6 1418.0,2361.1 1418.8,2369.7 1419.6,2360.3 1420.5,2318.7 1421.3,2251.9 1422.1,2258.4 1422.9,2276.3 1423.8,2331.5 1424.6,2356.5 1425.4,2368.7 1426.3,2376.4 1427.1,2353.1 1427.9,2322.1 1428.7,2304.4 1429.6,2313.7 1430.4,2338.2 1431.2,2345.5 1432.1,2348.0 1432.9,2333.9 1433.7,2338.3 1434.5,2331.2 1435.4,2312.9 1436.2,2281.6 1437.0,2263.4 1437.9,2280.3 1438.7,2327.6 1439.5,2374.1 1440.3,2378.4 1441.2,2258.0 1442.0,2259.7 1442.8,2298.9 1443.7,2345.2 1444.5,2364.7 1445.3,2373.2 1446.1,2353.3 1447.0,2328.5 1447.8,2319.0 1448.6,2320.2 1449.5,2351.5 1450.3,2372.9 1451.1,2379.0 1451.9,2348.1 1452.8,2346.7 1453.6,2344.5 1454.4,2325.6 1455.3,2321.6 1456.1,2313.6 1456.9,2335.9 1457.7,2344.6 1458.6,2332.4 1459.4,2287.3 1460.2,2274.5 1461.1,2274.3 1461.9,2309.3 1462.7,2345.8 1463.6,2337.3 1464.4,2323.8 1465.2,2298.2 1466.0,2292.4 1466.9,2274.4 1467.7,2269.6 1468.5,2303.5 1469.4,2320.0 1470.2,2335.4 1471.0,2342.0 1471.8,2351.1 1472.7,2342.8 1473.5,2359.3 1474.3,2373.7 1475.2,2382.0 1476.0,2368.7 1476.8,2335.4 1477.6,2307.6 1478.5,2305.5 1479.3,2339.2 1480.1,2385.4 1481.0,2388.6 1481.8,2369.6 1482.6,2340.4 1483.4,2295.9 1484.3,2299.8 1485.1,2331.5 1485.9,2388.6 1486.8,2392.4 1487.6,2374.2 1488.4,2360.2 1489.2,2337.0 1490.1,2346.7 1490.9,2360.4 1491.7,2330.6 1492.6,2306.1 1493.4,2296.8 1494.2,2305.1 1495.0,2322.3 1495.9,2344.8 1496.7,2319.7 1497.5,2323.0 1498.4,2326.8 1499.2,2346.7 1500.0,2364.9 1500.8,2392.4 1501.7,2392.4 1502.5,2385.1 1503.3,2313.1 1504.2,2292.8 1505.0,2313.1 1505.8,2336.0 1506.6,2372.7 1507.5,2359.7 1508.3,2363.9 1509.1,2372.3 1510.0,2392.4 1510.8,2383.0 1511.6,2354.2 1512.4,2303.6 1513.3,2320.2 1514.1,2344.7 1514.9,2365.7 1515.8,2371.3 1516.6,2335.7 1517.4,2292.8 1518.2,2292.6 1519.1,2313.4 1519.9,2349.3 1520.7,2353.1 1521.6,2349.4 1522.4,2342.3 1523.2,2338.2 1524.0,2363.1 1524.9,2369.8 1525.7,2343.2 1526.5,2352.2 1527.4,2360.8 1528.2,2351.2 1529.0,2371.9 1529.9,2379.5 1530.7,2392.4 1531.5,2392.4 1532.3,2392.4 1533.2,2392.4 1534.0,2382.2 1534.8,2369.8 1535.7,2360.4 1536.5,2388.9 1537.3,2372.0 1538.1,2359.5 1539.0,2368.3 1539.8,2378.3 1540.6,2371.9 1541.5,2375.8 1542.3,2376.4 1543.1,2375.3 1543.9,2360.4 1544.8,2362.0 1545.6,2354.8 1546.4,2347.4 1547.3,2353.0 1548.1,2338.2 1548.9,2339.8 1549.7,2368.7 1550.6,2373.6 1551.4,2366.5 1552.2,2357.2 1553.1,2343.9 1553.9,2295.0 1554.7,2288.9 1555.5,2307.1 1556.4,2343.8 1557.2,2342.5 1558.0,2344.2 1558.9,2356.0 1559.7,2373.5 1560.5,2361.0 1561.3,2329.3 1562.2,2340.4 1563.0,2353.9 1563.8,2343.9 1564.7,2311.6 1565.5,2326.7 1566.3,2342.6 1567.1,2333.7 1568.0,2334.3 1568.8,2339.1 1569.6,2345.2 1570.5,2360.0 1571.3,2353.0 1572.1,2332.5 1572.9,2338.7 1573.8,2336.4 1574.6,2309.7 1575.4,2297.3 1576.3,2286.1 1577.1,2311.9 1577.9,2307.7 1578.7,2330.0 1579.6,2304.0 1580.4,2307.2 1581.2,2329.9 1582.1,2350.1 1582.9,2354.0 1583.7,2347.0 1584.5,2340.7 1585.4,2332.2 1586.2,2308.2 1587.0,2281.0 1587.9,2294.2 1588.7,2293.2 1589.5,2330.2 1590.3,2360.7 1591.2,2377.7 1592.0,2353.4 1592.8,2346.6 1593.7,2238.0 1594.5,2318.5 1595.3,2254.5 1596.2,2230.5 1597.0,2274.8 1597.8,2323.8 1598.6,2330.2 1599.5,2324.2 1600.3,2340.5 1601.1,2343.5 1602.0,2357.9 1602.8,2365.9 1603.6,2314.5 1604.4,2262.7 1605.3,2293.5 1606.1,2350.4 1606.9,2361.5 1607.8,2359.8 1608.6,2333.5 1609.4,2322.2 1610.2,2319.3 1611.1,2314.8 1611.9,2332.4 1612.7,2362.9 1613.6,2374.3 1614.4,2362.6 1615.2,2330.4 1616.0,2299.3 1616.9,2281.6 1617.7,2273.6 1618.5,2306.3 1619.4,2298.1 1620.2,2258.4 1621.0,2255.3 1621.8,2280.7 1622.7,2285.4 1623.5,2286.9 1624.3,2295.4 1625.2,2308.1 1626.0,2322.2" fill="none" stroke="#000" stroke-width="1.55" stroke-linejoin="miter" stroke-miterlimit="2"/>
<polyline points="113.4,1859.8 114.0,1895.6 116.9,1899.6 118.9,1913.5 121.9,1927.4 124.9,1945.3 127.9,1942.3 130.9,1953.3 133.8,1957.2 135.8,1975.1 137.2,2018.9 137.8,2041.8 139.8,2024.9 141.8,2037.8 144.8,2012.9 147.8,1991.0 150.7,1959.2 152.7,1935.4 154.7,1867.7 157.1,1857.8 160.3,1832.9 162.7,1845.9 164.7,1851.8 165.7,1837.9 168.2,1838.9 169.6,1869.7 172.6,1867.7 174.6,1871.7 176.6,1909.5 178.6,1939.3 179.6,2028.8 181.5,2045.0 183.0,2075.6 187.0,2077.6 190.9,2109.4 194.9,2115.4 199.9,2165.1 205.9,2153.1 209.8,2119.3 214.8,2093.5 218.8,2107.4 223.8,2081.5 226.7,2093.5 230.7,2079.6 233.7,2111.4 238.7,2153.1 242.6,2139.2 247.6,2175.0 251.6,2164.1 257.6,2183.0 263.5,2188.9 267.5,2196.9 270.5,2179.0 275.5,2206.8 280.4,2226.7 284.4,2210.8 289.4,2230.7 294.4,2226.7 302.3,2204.9 307.3,2224.7 314.2,2230.7 320.2,2258.6 325.2,2278.4 331.2,2262.5 337.1,2258.6 343.1,2252.6 351.0,2228.7 355.0,2195.9 359.0,2171.0 363.0,2147.2 368.0,2136.2 371.9,2133.3 376.9,2143.2 380.9,2169.1 382.9,2179.0 386.8,2137.2 390.8,2129.3 394.8,2111.4 398.8,2059.7 403.7,2047.7 408.3,2012.9 411.7,2055.7 415.7,2041.8 419.7,2025.9 422.6,2043.8 427.6,2077.6 432.6,2083.5 437.6,2095.5 440.5,2065.6 445.5,2087.5 450.5,2075.6 455.5,2091.5 459.4,2067.6 466.4,2119.3 471.4,2133.3 476.3,2111.4 483.3,2123.3 490.3,2116.4 495.0,2129.4 498.9,2155.3 504.9,2143.4 509.9,2179.2 513.9,2183.1 517.8,2195.1 524.8,2197.1 530.8,2223.9 536.7,2173.2 541.7,2163.3 547.7,2143.4 553.6,2147.3 558.6,2169.2 563.6,2209.0 568.6,2242.8 577.5,2278.6 588.4,2302.5 595.4,2276.6 603.4,2250.8 609.3,2250.8 614.3,2239.8 619.3,2246.8 627.2,2281.6 633.2,2264.7 640.2,2274.6 644.1,2262.7 649.1,2236.8 654.1,2201.0 659.1,2197.1 663.0,2175.2 667.0,2163.3 671.0,2117.5 677.0,2129.4 680.9,2138.4 685.9,2123.5 690.9,2082.7 694.9,2117.5 696.8,2133.4 700.8,2089.7 705.2,2065.8 709.8,2077.7 715.7,2141.4 720.7,2099.6 723.7,2103.6 727.7,2133.4 730.7,2169.2 733.6,2151.3 738.6,2119.5 743.6,2113.5 747.6,2121.5 752.5,2104.6 756.5,2113.5 763.5,2145.4 766.5,2127.5 770.4,2135.4 774.4,2147.3 782.4,2116.5 787.3,2127.5 792.3,2187.1 799.3,2171.2 803.0,2195.1 807.0,2205.0 810.9,2199.0 813.9,2155.3 817.9,2161.3 820.9,2173.2 823.9,2201.0 827.8,2186.1 831.8,2191.1 835.8,2179.2 838.8,2211.0 841.8,2199.0 846.7,2205.0 849.7,2197.1 852.7,2217.0 856.7,2215.0 861.7,2234.9 865.6,2256.7 869.6,2252.8 874.6,2270.7 879.6,2270.7 885.5,2261.7 893.5,2270.7 899.4,2266.7 905.4,2268.7 913.4,2282.6 919.3,2280.6 927.3,2296.5 933.3,2323.4 938.2,2310.4 943.2,2323.4 951.2,2308.4 957.1,2274.6 961.1,2262.7 964.1,2234.9 969.1,2230.9 973.0,2201.0 976.0,2139.4 980.0,2137.4 983.0,2145.4 987.9,2161.3 995.9,2127.5 1000.9,2171.2 1006.8,2159.3 1010.8,2155.3 1013.8,2141.4 1017.8,2071.8 1021.8,2087.7 1024.7,2077.7 1028.7,2082.7 1031.7,2063.8 1036.7,2048.9 1039.7,2069.8 1042.6,2131.4 1046.6,2093.6 1053.6,2111.5 1058.6,2096.6 1061.5,2098.6 1067.5,2051.9 1071.5,2085.7 1075.5,2115.5 1079.4,2085.7 1082.4,2125.5 1087.4,2151.3 1092.4,2177.2 1096.3,2193.1 1101.3,2165.2 1105.3,2171.2 1110.3,2171.2 1115.2,2181.2 1118.2,2201.0 1122.9,2197.1 1128.9,2199.0 1133.9,2197.1 1139.8,2215.0 1144.8,2218.9 1151.8,2236.8 1155.7,2244.8 1160.7,2256.7 1166.7,2248.8 1174.6,2256.7 1180.6,2282.6 1185.6,2276.6 1189.6,2286.6 1195.5,2282.6 1200.5,2294.5 1207.5,2286.6 1215.4,2302.5 1223.4,2296.5 1232.3,2308.4 1238.3,2292.5 1246.2,2300.5 1251.2,2294.5 1255.2,2274.6 1261.2,2268.7 1265.1,2244.8 1269.1,2201.0 1273.1,2175.2 1279.1,2161.3 1283.0,2147.3 1287.0,2159.3 1291.0,2163.3 1296.0,2183.1 1299.9,2173.2 1305.9,2181.2 1308.9,2157.3 1312.9,2119.5 1317.8,2067.8 1320.8,2059.8 1324.8,2069.8 1328.8,2061.8 1331.8,2065.8 1336.7,2105.6 1340.7,2105.6 1345.7,2123.5 1350.7,2109.6 1354.6,2095.6 1358.6,2079.7 1362.6,2069.8 1366.0,2050.9 1368.6,2059.8 1372.5,2079.7 1377.5,2081.7 1382.5,2089.7 1387.4,2071.8 1390.4,2101.6 1395.4,2133.4 1400.4,2103.6 1403.4,2125.5 1406.0,2128.3 1409.0,2135.8 1411.2,2156.7 1414.9,2171.6 1417.2,2183.5 1419.4,2177.6 1423.9,2189.5 1428.3,2195.5 1431.3,2194.0 1435.8,2204.4 1441.8,2202.9 1446.2,2210.4 1451.5,2225.3 1455.9,2246.2 1458.9,2252.1 1465.6,2250.7 1471.6,2264.1 1477.6,2282.0 1480.5,2268.6 1485.0,2270.0 1489.5,2264.1 1495.5,2279.0 1499.9,2278.3 1504.4,2288.0 1508.9,2283.5 1513.4,2296.9 1517.8,2305.8 1523.1,2293.9 1529.8,2299.9 1535.0,2308.1 1538.7,2296.9 1544.7,2296.9 1548.4,2298.4 1553.6,2273.0 1558.1,2252.1 1561.1,2241.7 1565.6,2216.3 1570.0,2211.1 1575.3,2210.4 1579.0,2204.4 1583.5,2185.0 1586.5,2194.0 1590.2,2211.9 1593.9,2189.5 1597.6,2159.7 1602.1,2182.0 1607.3,2211.9 1611.8,2189.5 1615.5,2150.7 1619.3,2158.2 1622.2,2180.5 1626.0,2132.8" fill="none" stroke="#ff0000" stroke-width="2.7" stroke-linejoin="round"/>
<rect x="113.1" y="1787.6" width="1513.3" height="613.3" fill="none" stroke="#2e2e2e" stroke-width="1.6"/>
<line x1="113.1" y1="2400.9" x2="113.1" y2="2423.4" stroke="#2e2e2e" stroke-width="1.6"/>
<line x1="417.0" y1="2400.9" x2="417.0" y2="2423.4" stroke="#2e2e2e" stroke-width="1.6"/>
<line x1="719.6" y1="2400.9" x2="719.6" y2="2423.4" stroke="#2e2e2e" stroke-width="1.6"/>
<line x1="1022.3" y1="2400.9" x2="1022.3" y2="2423.4" stroke="#2e2e2e" stroke-width="1.6"/>
<line x1="1324.9" y1="2400.9" x2="1324.9" y2="2423.4" stroke="#2e2e2e" stroke-width="1.6"/>
<line x1="1626.4" y1="2400.9" x2="1626.4" y2="2423.4" stroke="#2e2e2e" stroke-width="1.6"/>
<text x="265.6" y="2434.0" font-size="25.6" text-anchor="middle" fill="#1a1a1a" >2019</text>
<text x="568.3" y="2434.0" font-size="25.6" text-anchor="middle" fill="#1a1a1a" >2020</text>
<text x="871.0" y="2434.0" font-size="25.6" text-anchor="middle" fill="#1a1a1a" >2021</text>
<text x="1173.6" y="2434.0" font-size="25.6" text-anchor="middle" fill="#1a1a1a" >2022</text>
<text x="1476.3" y="2434.0" font-size="25.6" text-anchor="middle" fill="#1a1a1a" >2023</text>
<text x="91" y="1794.0" font-size="22.3" text-anchor="end" fill="#3a3a3a" >45</text>
<text x="91" y="1862.7" font-size="22.3" text-anchor="end" fill="#3a3a3a" >40</text>
<text x="91" y="1931.5" font-size="22.3" text-anchor="end" fill="#3a3a3a" >35</text>
<text x="91" y="1999.6" font-size="22.3" text-anchor="end" fill="#3a3a3a" >30</text>
<text x="91" y="2067.6" font-size="22.3" text-anchor="end" fill="#3a3a3a" >25</text>
<text x="91" y="2135.7" font-size="22.3" text-anchor="end" fill="#3a3a3a" >20</text>
<text x="91" y="2203.8" font-size="22.3" text-anchor="end" fill="#3a3a3a" >15</text>
<text x="91" y="2272.3" font-size="22.3" text-anchor="end" fill="#3a3a3a" >10</text>
<text x="91" y="2340.3" font-size="22.3" text-anchor="end" fill="#3a3a3a" >5</text>
<text x="91" y="2408.1" font-size="22.3" text-anchor="end" fill="#3a3a3a" >0</text>
<text x="1640.5" y="1798.8" font-size="22.3" text-anchor="start" fill="#3a3a3a" textLength="35.1" lengthAdjust="spacingAndGlyphs">120</text>
<text x="1640.5" y="1897.8" font-size="22.3" text-anchor="start" fill="#3a3a3a" textLength="35.1" lengthAdjust="spacingAndGlyphs">100</text>
<text x="1640.5" y="2002.2" font-size="22.3" text-anchor="start" fill="#3a3a3a" >80</text>
<text x="1640.5" y="2105.3" font-size="22.3" text-anchor="start" fill="#3a3a3a" >60</text>
<text x="1640.5" y="2207.6" font-size="22.3" text-anchor="start" fill="#3a3a3a" >40</text>
<text x="1640.5" y="2309.2" font-size="22.3" text-anchor="start" fill="#3a3a3a" >20</text>
<text x="1640.5" y="2410.8" font-size="22.3" text-anchor="start" fill="#3a3a3a" >0</text>
<text x="869.7" y="2494.4" font-size="45.5" text-anchor="middle" fill="#000" textLength="83" lengthAdjust="spacingAndGlyphs">Year</text>
<text transform="translate(30.6,2348) rotate(-90)" font-size="34" fill="#000" textLength="514.7" lengthAdjust="spacingAndGlyphs">Monthly Moving Average (μg/m<tspan font-size="22" dy="-12">3</tspan><tspan dy="12">)</tspan></text>
<text transform="translate(1721,1922.4) rotate(90)" font-size="34.5" fill="#000" textLength="336.1" lengthAdjust="spacingAndGlyphs">Daily Average (μg/m<tspan font-size="22" dy="-12">3</tspan><tspan dy="12">)</tspan></text>
<line x1="1474" y1="1818.3" x2="1501.4" y2="1818.3" stroke="#e03030" stroke-width="2"/>
<line x1="1474" y1="1843.7" x2="1501.4" y2="1843.7" stroke="#303030" stroke-width="2"/>
<text x="1508.7" y="1823.0" font-size="17.4" text-anchor="start" fill="#333" textLength="93" lengthAdjust="spacingAndGlyphs">Monthly MA</text>
<text x="1508.7" y="1848.1" font-size="17.4" text-anchor="start" fill="#333" textLength="99" lengthAdjust="spacingAndGlyphs">Daily average</text>
<text x="788.6" y="63.4" font-size="86" fill="#000" textLength="121.7" lengthAdjust="spacingAndGlyphs">PM</text>
<text x="911.9" y="81.3" font-size="53.5" fill="#000" textLength="58" lengthAdjust="spacingAndGlyphs">10</text>
<text x="831.7" y="908.5" font-size="86" fill="#000" textLength="62.9" lengthAdjust="spacingAndGlyphs">O</text>
<text x="896" y="927.3" font-size="53.5" fill="#000" textLength="27.7" lengthAdjust="spacingAndGlyphs">3</text>
<text x="780.2" y="1753.5" font-size="86" fill="#000" textLength="120.9" lengthAdjust="spacingAndGlyphs">PM</text>
<text x="902.8" y="1771.9" font-size="53.5" fill="#000" textLength="68.9" lengthAdjust="spacingAndGlyphs">2.5</text>
</svg>
</body></html>
